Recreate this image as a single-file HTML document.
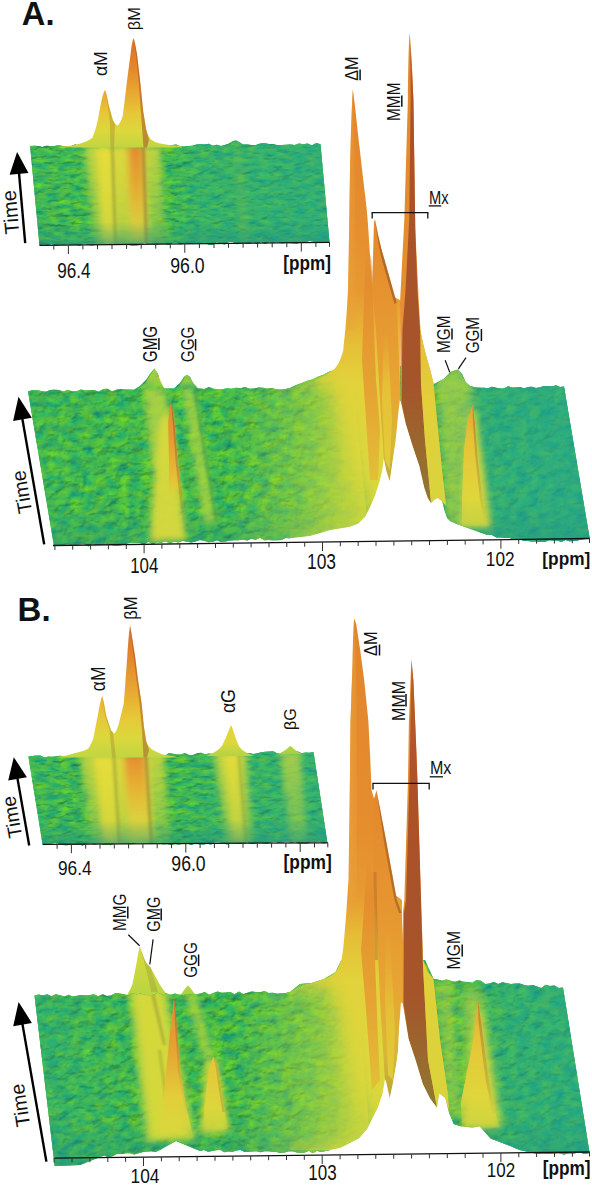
<!DOCTYPE html>
<html><head><meta charset="utf-8"><style>
html,body{margin:0;padding:0;background:#fff;width:592px;height:1187px;overflow:hidden}
svg{display:block}
text{font-family:"Liberation Sans",sans-serif;fill:#111}
</style></head><body><svg width="592" height="1187" viewBox="0 0 592 1187"><defs><filter id="tex" x="0" y="0" width="1" height="1" color-interpolation-filters="sRGB">
<feTurbulence type="fractalNoise" baseFrequency="0.1 0.15" numOctaves="3" seed="4" result="n"/>
<feColorMatrix in="n" type="matrix" values="-0.5 0.0 0 0 0.525  -0.26 0.15 0 0 0.792  0.46 0.0 0 0 0.07  0 0 0 0 1" result="c"/>
<feDiffuseLighting in="n" surfaceScale="2.5" diffuseConstant="1" lighting-color="#fff" result="l"><feDistantLight azimuth="235" elevation="50"/></feDiffuseLighting>
<feColorMatrix in="l" type="matrix" values="0.85 0 0 0 0.35  0.5 0 0 0 0.61  0.25 0 0 0 0.81  0 0 0 0 1" result="l2"/>
<feComposite in="c" in2="l2" operator="arithmetic" k1="1" k2="0" k3="0" k4="0" result="m"/>
<feComposite in="m" in2="SourceGraphic" operator="in"/>
</filter><filter id="tex2" x="0" y="0" width="1" height="1" color-interpolation-filters="sRGB">
<feTurbulence type="fractalNoise" baseFrequency="0.085 0.12" numOctaves="3" seed="9" result="n"/>
<feColorMatrix in="n" type="matrix" values="-0.5 0.0 0 0 0.525  -0.26 0.15 0 0 0.792  0.46 0.0 0 0 0.07  0 0 0 0 1" result="c"/>
<feDiffuseLighting in="n" surfaceScale="2.5" diffuseConstant="1" lighting-color="#fff" result="l"><feDistantLight azimuth="235" elevation="50"/></feDiffuseLighting>
<feColorMatrix in="l" type="matrix" values="0.85 0 0 0 0.35  0.5 0 0 0 0.61  0.25 0 0 0 0.81  0 0 0 0 1" result="l2"/>
<feComposite in="c" in2="l2" operator="arithmetic" k1="1" k2="0" k3="0" k4="0" result="m"/>
<feComposite in="m" in2="SourceGraphic" operator="in"/>
</filter><filter id="texI" x="0" y="0" width="1" height="1" color-interpolation-filters="sRGB">
<feTurbulence type="fractalNoise" baseFrequency="0.085 0.19" numOctaves="3" seed="5" result="n"/>
<feColorMatrix in="n" type="matrix" values="-0.5 0.0 0 0 0.525  -0.26 0.15 0 0 0.792  0.46 0.0 0 0 0.07  0 0 0 0 1" result="c"/>
<feDiffuseLighting in="n" surfaceScale="2.5" diffuseConstant="1" lighting-color="#fff" result="l"><feDistantLight azimuth="250" elevation="55"/></feDiffuseLighting>
<feColorMatrix in="l" type="matrix" values="0.85 0 0 0 0.35  0.5 0 0 0 0.61  0.25 0 0 0 0.81  0 0 0 0 1" result="l2"/>
<feComposite in="c" in2="l2" operator="arithmetic" k1="1" k2="0" k3="0" k4="0" result="m"/>
<feComposite in="m" in2="SourceGraphic" operator="in"/>
</filter><filter id="tex3" x="0" y="0" width="1" height="1" color-interpolation-filters="sRGB">
<feTurbulence type="fractalNoise" baseFrequency="0.085 0.12" numOctaves="3" seed="12" result="n"/>
<feColorMatrix in="n" type="matrix" values="-0.5 0.0 0 0 0.525  -0.26 0.15 0 0 0.792  0.46 0.0 0 0 0.07  0 0 0 0 1" result="c"/>
<feDiffuseLighting in="n" surfaceScale="2.5" diffuseConstant="1" lighting-color="#fff" result="l"><feDistantLight azimuth="235" elevation="50"/></feDiffuseLighting>
<feColorMatrix in="l" type="matrix" values="0.85 0 0 0 0.35  0.5 0 0 0 0.61  0.25 0 0 0 0.81  0 0 0 0 1" result="l2"/>
<feComposite in="c" in2="l2" operator="arithmetic" k1="1" k2="0" k3="0" k4="0" result="m"/>
<feComposite in="m" in2="SourceGraphic" operator="in"/>
</filter><filter id="b1" x="-50%" y="-50%" width="200%" height="200%"><feGaussianBlur stdDeviation="1"/></filter><filter id="b2" x="-50%" y="-50%" width="200%" height="200%"><feGaussianBlur stdDeviation="2"/></filter><filter id="b3" x="-50%" y="-50%" width="200%" height="200%"><feGaussianBlur stdDeviation="3"/></filter><filter id="b5" x="-50%" y="-50%" width="200%" height="200%"><feGaussianBlur stdDeviation="5"/></filter><filter id="b6" x="-50%" y="-50%" width="200%" height="200%"><feGaussianBlur stdDeviation="6"/></filter><filter id="b10" x="-50%" y="-50%" width="200%" height="200%"><feGaussianBlur stdDeviation="10"/></filter><linearGradient id="tealA" gradientUnits="userSpaceOnUse" x1="30" y1="0" x2="330" y2="0"><stop offset="0" stop-color="#22a596" stop-opacity="0.15"/><stop offset="0.2" stop-color="#22a596" stop-opacity="0.05"/><stop offset="0.45" stop-color="#22a596" stop-opacity="0"/><stop offset="0.55" stop-color="#22a596" stop-opacity="0.35"/><stop offset="1" stop-color="#22a596" stop-opacity="0.55"/></linearGradient><clipPath id="cInsA"><polygon points="30.1,146.0 34.2,145.8 38.2,146.1 42.3,147.1 46.3,145.8 50.4,145.9 54.5,146.1 58.5,145.0 62.6,145.9 66.6,146.2 70.7,146.6 74.8,144.6 78.8,145.2 82.9,144.6 86.9,146.5 91.0,146.2 95.1,144.4 99.1,147.0 103.2,146.9 107.2,146.0 111.3,145.9 115.4,144.6 119.4,144.1 123.5,145.6 127.6,144.2 131.6,144.6 135.7,144.7 139.7,144.1 143.8,145.3 147.9,145.2 151.9,146.3 156.0,145.3 160.0,145.7 164.1,145.2 168.2,145.7 172.2,145.1 176.3,144.6 180.3,146.5 184.4,146.5 188.5,146.1 192.5,145.7 196.6,144.5 200.6,144.3 204.7,144.4 208.8,143.8 212.8,145.7 216.9,144.7 220.9,145.9 225.0,144.9 229.0,143.5 233.0,141.0 236.0,140.5 239.0,142.0 243.0,144.6 247.3,144.5 251.6,145.0 255.9,145.0 260.2,143.5 264.5,143.1 268.8,144.1 273.1,143.9 277.4,145.3 281.8,145.0 286.1,144.7 290.4,144.6 294.7,144.9 299.0,143.4 303.3,144.2 307.6,143.4 311.9,145.5 316.2,143.1 320.5,144.3 329.5,242.3 325.5,242.3 321.4,242.8 317.4,242.9 313.4,241.5 309.4,241.1 305.3,242.2 301.3,242.0 297.3,243.5 293.2,243.2 289.2,243.0 285.2,242.9 281.2,243.3 277.1,241.8 273.1,242.7 269.1,242.0 265.1,244.1 261.0,241.8 257.0,243.9 253.0,241.9 248.9,243.7 244.9,242.7 240.9,242.9 236.9,244.2 232.8,242.0 228.8,242.1 224.8,244.5 220.8,243.4 216.7,242.3 212.7,244.9 208.7,244.8 204.6,242.5 200.6,243.4 196.6,242.7 192.6,243.2 188.5,244.1 184.5,242.9 180.5,244.4 176.4,242.6 172.4,243.0 168.4,244.9 164.4,243.7 160.3,243.8 156.3,244.4 152.3,244.1 148.2,243.9 144.2,242.9 140.2,244.9 136.2,245.6 132.1,245.7 128.1,244.8 124.1,244.0 120.1,244.1 116.0,245.0 112.0,245.0 108.0,243.5 103.9,243.9 99.9,244.3 95.9,244.7 91.9,245.6 87.8,244.8 83.8,243.5 79.8,245.8 75.8,244.7 71.7,245.0 67.7,244.2 63.7,244.8 59.6,244.8 55.6,245.9 51.6,244.1 47.6,245.4 43.5,244.4 39.5,245.3"/></clipPath><linearGradient id="rgA1" gradientUnits="userSpaceOnUse" x1="0" y1="146" x2="0" y2="245"><stop offset="0" stop-color="#c6d541" stop-opacity="0.95"/><stop offset="1" stop-color="#a8d044" stop-opacity="0.5"/></linearGradient><linearGradient id="rgA2" gradientUnits="userSpaceOnUse" x1="0" y1="146" x2="0" y2="245"><stop offset="0" stop-color="#dcd83c" stop-opacity="1"/><stop offset="0.6" stop-color="#d4d53d" stop-opacity="0.8"/><stop offset="1" stop-color="#c8d440" stop-opacity="0.55"/></linearGradient><linearGradient id="rgA3" gradientUnits="userSpaceOnUse" x1="0" y1="146" x2="0" y2="245"><stop offset="0" stop-color="#e6de3a" stop-opacity="1"/><stop offset="1" stop-color="#d6d63d" stop-opacity="0.8"/></linearGradient><linearGradient id="rgA4" gradientUnits="userSpaceOnUse" x1="0" y1="146" x2="0" y2="245"><stop offset="0" stop-color="#e48a2e" stop-opacity="1"/><stop offset="0.4" stop-color="#e5a833" stop-opacity="1"/><stop offset="0.75" stop-color="#e0c83a" stop-opacity="0.9"/><stop offset="1" stop-color="#d2d03e" stop-opacity="0.7"/></linearGradient><linearGradient id="frA" gradientUnits="userSpaceOnUse" x1="0" y1="222" x2="0" y2="247"><stop offset="0" stop-color="#1f8f86" stop-opacity="0"/><stop offset="1" stop-color="#1f8f86" stop-opacity="0.55"/></linearGradient><linearGradient id="gInA" gradientUnits="userSpaceOnUse" x1="0" y1="38" x2="0" y2="147"><stop offset="0" stop-color="#d9702a"/><stop offset="0.25" stop-color="#e2842c"/><stop offset="0.5" stop-color="#e8a832"/><stop offset="0.7" stop-color="#e6c838"/><stop offset="0.85" stop-color="#dcd83c"/><stop offset="1" stop-color="#c2d542"/></linearGradient><linearGradient id="tealA2" gradientUnits="userSpaceOnUse" x1="28" y1="0" x2="590" y2="0"><stop offset="0" stop-color="#22a596" stop-opacity="0.1"/><stop offset="0.2" stop-color="#22a596" stop-opacity="0.0"/><stop offset="0.72" stop-color="#22a596" stop-opacity="0.0"/><stop offset="0.81" stop-color="#22a596" stop-opacity="0.55"/><stop offset="1" stop-color="#22a596" stop-opacity="0.7"/></linearGradient><linearGradient id="frMA" gradientUnits="userSpaceOnUse" x1="0" y1="505" x2="0" y2="548"><stop offset="0" stop-color="#1f8f86" stop-opacity="0"/><stop offset="1" stop-color="#1f8f86" stop-opacity="0.4"/></linearGradient><clipPath id="cMainA"><polygon points="28.0,391.4 32.4,389.9 36.8,390.1 41.2,390.9 45.7,391.7 50.1,390.0 54.5,389.8 58.9,390.1 63.3,391.6 67.8,389.7 72.2,391.5 76.6,391.2 81.0,389.5 85.4,390.6 89.8,390.3 94.2,390.1 98.7,391.8 103.1,389.0 107.5,388.8 111.9,391.5 116.3,389.8 120.8,389.1 125.2,389.4 129.6,389.5 134.0,389.8 140.0,386.0 146.0,380.0 150.0,374.0 154.5,368.6 158.0,374.0 160.0,382.0 164.0,388.5 174.0,388.6 180.0,383.0 184.0,377.0 186.9,374.7 190.0,377.0 193.0,383.0 198.0,388.4 200.0,388.4 204.5,388.9 209.0,387.1 213.5,388.7 218.0,389.3 222.5,389.3 227.0,388.3 231.5,388.7 236.0,387.8 240.5,388.3 245.0,387.0 249.5,388.7 254.0,388.5 258.5,387.5 263.0,387.8 267.5,388.8 272.0,387.9 276.5,389.4 281.0,389.5 285.5,389.0 290.0,388.0 295.6,385.2 301.1,383.2 306.7,381.0 312.3,379.5 317.9,376.7 323.5,374.8 329.0,371.8 334.6,370.0 340.0,366.0 425.0,366.0 430.0,386.0 436.0,383.0 443.8,378.9 450.5,372.0 458.1,369.6 462.0,374.0 465.7,382.2 470.0,386.0 476.0,387.5 476.0,387.5 480.0,387.7 484.0,387.8 488.0,388.3 492.0,386.7 496.0,387.7 500.0,388.4 504.0,388.4 508.0,386.2 512.0,387.5 516.0,387.4 520.0,387.0 524.0,388.4 528.0,387.0 532.0,386.7 536.0,388.1 540.0,387.2 544.0,386.1 548.0,386.1 552.0,386.6 556.0,385.2 560.0,386.9 564.0,386.5 589.7,538.6 585.6,539.0 581.6,539.4 577.5,540.5 573.5,540.9 569.4,541.2 565.4,539.9 561.3,541.9 557.2,540.6 553.2,540.6 549.1,540.2 545.1,541.8 541.0,542.0 536.5,541.6 532.1,541.6 527.6,541.0 523.2,540.8 518.7,538.4 514.2,539.9 509.8,538.1 505.3,538.1 500.9,537.5 496.4,537.5 492.0,534.9 487.5,535.0 459.0,524.7 450.0,520.9 447.1,518.4 444.6,511.6 442.0,501.5 437.8,498.1 434.5,499.8 431.1,503.2 427.7,498.1 424.3,488.0 419.3,466.0 412.5,445.7 405.7,423.8 400.7,401.8 399.8,400.1 398.1,415.3 395.6,440.7 393.1,457.6 389.7,481.2 386.3,471.1 383.8,458.4 382.1,471.1 379.6,481.2 375.3,494.7 370.3,506.6 365.2,516.7 358.4,523.4 350.0,526.8 330.5,530.0 310.0,536.0 290.0,538.3 285.7,537.9 281.4,540.1 277.1,540.2 272.8,540.2 268.5,539.9 264.3,540.3 260.0,537.7 255.7,539.8 251.4,538.8 247.1,540.4 242.8,539.6 238.5,540.2 234.2,540.3 229.9,540.5 225.6,541.4 221.3,542.1 217.1,540.2 212.8,541.8 208.5,542.2 204.2,540.8 199.9,540.0 195.6,541.4 191.3,542.4 187.0,541.7 182.7,540.8 178.4,542.6 174.1,541.5 169.9,543.5 165.6,541.3 161.3,542.8 157.0,542.3 152.7,544.3 148.4,541.8 144.1,544.3 139.8,542.9 135.5,542.9 131.2,542.5 126.9,543.6 122.7,545.1 118.4,545.5 114.1,545.4 109.8,544.5 105.5,543.5 101.2,544.5 96.9,545.1 92.6,544.1 88.3,546.4 84.0,543.7 79.7,544.3 75.5,544.4 71.2,544.4 66.9,544.2 62.6,544.9 58.3,545.5 54.0,546.0"/></clipPath><linearGradient id="glA" gradientUnits="userSpaceOnUse" x1="230" y1="0" x2="345" y2="0"><stop offset="0" stop-color="#b5d443" stop-opacity="0"/><stop offset="0.6" stop-color="#b5d443" stop-opacity="0.45"/><stop offset="1" stop-color="#cfd83e" stop-opacity="0.8"/></linearGradient><linearGradient id="gFrA" gradientUnits="userSpaceOnUse" x1="0" y1="401" x2="0" y2="500"><stop offset="0" stop-color="#e4882e"/><stop offset="0.4" stop-color="#e69c31"/><stop offset="0.8" stop-color="#e5c237"/><stop offset="1" stop-color="#e0d33b" stop-opacity="0"/></linearGradient><linearGradient id="gFrA2" gradientUnits="userSpaceOnUse" x1="0" y1="401" x2="0" y2="535"><stop offset="0" stop-color="#9a6028" stop-opacity="0.7"/><stop offset="0.7" stop-color="#a88a34" stop-opacity="0.5"/><stop offset="1" stop-color="#a88a34" stop-opacity="0"/></linearGradient><linearGradient id="gBkA" gradientUnits="userSpaceOnUse" x1="0" y1="368" x2="0" y2="390"><stop offset="0" stop-color="#cad83e"/><stop offset="0.6" stop-color="#b0d243"/><stop offset="1" stop-color="#a0cd45" stop-opacity="0"/></linearGradient><mask id="mFadeA" maskUnits="userSpaceOnUse" x="0" y="0" width="592" height="600"><rect x="0" y="0" width="592" height="600" fill="#fff"/><polygon points="200,382 322,378 334,396 340,420 350,471 362,512 368,532 200,560" fill="#000" filter="url(#b10)"/><polygon points="452,392 470,392 470,540 452,540 446,505" fill="#000" filter="url(#b3)"/></mask><linearGradient id="gDM" gradientUnits="userSpaceOnUse" x1="0" y1="89" x2="0" y2="545"><stop offset="0" stop-color="#e2842c"/><stop offset="0.3" stop-color="#e58e2e"/><stop offset="0.45" stop-color="#e79a31"/><stop offset="0.56" stop-color="#e6be37"/><stop offset="0.64" stop-color="#e2d23b"/><stop offset="0.8" stop-color="#dfd73c"/><stop offset="1" stop-color="#d4d63d"/></linearGradient><linearGradient id="gDMl" gradientUnits="userSpaceOnUse" x1="343" y1="0" x2="360" y2="0"><stop offset="0" stop-color="#eba23a" stop-opacity="0.8"/><stop offset="1" stop-color="#eba23a" stop-opacity="0"/></linearGradient><linearGradient id="gS1" gradientUnits="userSpaceOnUse" x1="0" y1="240" x2="0" y2="490"><stop offset="0" stop-color="#e48a2e" stop-opacity="0"/><stop offset="0.15" stop-color="#e48a2e" stop-opacity="1"/><stop offset="0.6" stop-color="#e69a30"/><stop offset="1" stop-color="#e4bf37"/></linearGradient><linearGradient id="gMx" gradientUnits="userSpaceOnUse" x1="0" y1="219" x2="0" y2="490"><stop offset="0" stop-color="#e3882c"/><stop offset="0.3" stop-color="#e69430"/><stop offset="0.65" stop-color="#e7a633"/><stop offset="0.85" stop-color="#d8b836"/><stop offset="1" stop-color="#b9a236"/></linearGradient><linearGradient id="gMxy" gradientUnits="userSpaceOnUse" x1="0" y1="330" x2="0" y2="470"><stop offset="0" stop-color="#e8b434" stop-opacity="0"/><stop offset="0.4" stop-color="#e6c437" stop-opacity="0.9"/><stop offset="1" stop-color="#e3cf3a" stop-opacity="0.9"/></linearGradient><linearGradient id="gMMM" gradientUnits="userSpaceOnUse" x1="0" y1="33" x2="0" y2="505"><stop offset="0" stop-color="#e3882c"/><stop offset="0.7" stop-color="#e5902e"/><stop offset="1" stop-color="#e4b035"/></linearGradient><linearGradient id="gBrown" gradientUnits="userSpaceOnUse" x1="0" y1="33" x2="0" y2="505"><stop offset="0" stop-color="#b8602c"/><stop offset="0.2" stop-color="#ad5028"/><stop offset="0.75" stop-color="#a5552a"/><stop offset="1" stop-color="#8f7a32"/></linearGradient><linearGradient id="gMMy" gradientUnits="userSpaceOnUse" x1="0" y1="300" x2="0" y2="505"><stop offset="0" stop-color="#e6b834"/><stop offset="0.5" stop-color="#e3cf3a"/><stop offset="1" stop-color="#d8d43c"/></linearGradient><linearGradient id="gBk2" gradientUnits="userSpaceOnUse" x1="0" y1="369" x2="0" y2="394"><stop offset="0" stop-color="#bcd742"/><stop offset="0.6" stop-color="#a9d044"/><stop offset="1" stop-color="#a9d044" stop-opacity="0"/></linearGradient><linearGradient id="gMGM" gradientUnits="userSpaceOnUse" x1="0" y1="405" x2="0" y2="528"><stop offset="0" stop-color="#e6a432"/><stop offset="0.3" stop-color="#e6c437"/><stop offset="0.75" stop-color="#e0d63b" stop-opacity="0.95"/><stop offset="1" stop-color="#dcd63c" stop-opacity="0.2"/></linearGradient><linearGradient id="gMGMs" gradientUnits="userSpaceOnUse" x1="0" y1="405" x2="0" y2="525"><stop offset="0" stop-color="#a06a2a" stop-opacity="0.6"/><stop offset="0.7" stop-color="#a89a38" stop-opacity="0.45"/><stop offset="1" stop-color="#a89a38" stop-opacity="0"/></linearGradient><linearGradient id="tealB" gradientUnits="userSpaceOnUse" x1="28" y1="0" x2="328" y2="0"><stop offset="0" stop-color="#22a596" stop-opacity="0.15"/><stop offset="0.2" stop-color="#22a596" stop-opacity="0.05"/><stop offset="0.45" stop-color="#22a596" stop-opacity="0"/><stop offset="0.6" stop-color="#22a596" stop-opacity="0.25"/><stop offset="1" stop-color="#22a596" stop-opacity="0.5"/></linearGradient><clipPath id="cInsB"><polygon points="28.4,756.5 32.4,756.1 36.4,755.6 40.4,755.4 44.5,757.4 48.5,756.4 52.5,756.7 56.5,756.2 60.5,755.7 64.5,756.6 68.6,756.1 72.6,756.6 76.6,756.2 80.6,756.6 84.6,755.4 88.6,754.6 92.6,754.5 96.7,756.0 100.7,754.4 104.7,755.7 108.7,755.6 112.7,753.9 116.7,755.9 120.8,753.7 124.8,756.0 128.8,755.9 132.8,754.1 136.8,755.4 140.8,755.4 144.8,753.6 148.9,755.1 152.9,753.5 156.9,755.6 160.9,754.9 164.9,755.7 168.9,753.0 173.0,753.7 177.0,754.5 181.0,754.4 185.0,753.1 189.0,755.1 193.0,754.9 197.1,753.3 201.1,752.8 205.1,754.2 209.1,753.4 213.1,754.0 217.1,753.5 221.1,753.2 225.2,752.1 229.2,752.3 233.2,753.2 237.2,753.8 241.2,752.9 245.2,753.8 249.3,753.1 253.3,754.0 257.3,753.3 261.3,752.3 265.3,751.7 269.3,751.5 273.3,751.3 277.4,753.6 281.4,753.6 285.4,753.1 289.4,751.3 293.4,752.8 297.4,751.2 301.5,753.3 305.5,752.6 309.5,752.8 313.5,752.0 327.4,842.8 323.4,843.2 319.4,841.5 315.4,842.2 311.4,842.1 307.3,843.6 303.3,843.4 299.3,844.1 295.3,841.8 291.3,842.8 287.3,841.7 283.3,842.3 279.3,843.1 275.3,841.8 271.2,842.3 267.2,843.6 263.2,843.3 259.2,842.4 255.2,843.5 251.2,844.1 247.2,841.9 243.2,844.1 239.2,843.9 235.1,842.9 231.1,842.4 227.1,844.6 223.1,842.9 219.1,842.3 215.1,842.3 211.1,844.4 207.1,843.8 203.1,844.4 199.0,844.2 195.0,843.6 191.0,844.9 187.0,843.2 183.0,843.8 179.0,844.6 175.0,844.0 171.0,844.7 166.9,843.9 162.9,844.3 158.9,842.5 154.9,843.0 150.9,843.2 146.9,842.6 142.9,843.1 138.9,842.7 134.9,843.3 130.8,844.3 126.8,843.5 122.8,843.6 118.8,843.2 114.8,843.3 110.8,845.2 106.8,844.5 102.8,844.4 98.8,843.2 94.7,844.7 90.7,843.2 86.7,843.8 82.7,845.5 78.7,844.6 74.7,844.4 70.7,844.8 66.7,845.2 62.7,845.1 58.6,843.6 54.6,843.0 50.6,843.8 46.6,843.7 42.6,844.4"/></clipPath><linearGradient id="rgB1" gradientUnits="userSpaceOnUse" x1="0" y1="754" x2="0" y2="845"><stop offset="0" stop-color="#c6d541" stop-opacity="0.95"/><stop offset="1" stop-color="#a8d044" stop-opacity="0.5"/></linearGradient><linearGradient id="rgB2" gradientUnits="userSpaceOnUse" x1="0" y1="754" x2="0" y2="845"><stop offset="0" stop-color="#dcd83c" stop-opacity="1"/><stop offset="0.6" stop-color="#d4d53d" stop-opacity="0.8"/><stop offset="1" stop-color="#c8d440" stop-opacity="0.55"/></linearGradient><linearGradient id="rgB3" gradientUnits="userSpaceOnUse" x1="0" y1="754" x2="0" y2="845"><stop offset="0" stop-color="#e6de3a" stop-opacity="1"/><stop offset="1" stop-color="#d6d63d" stop-opacity="0.8"/></linearGradient><linearGradient id="rgB4" gradientUnits="userSpaceOnUse" x1="0" y1="754" x2="0" y2="845"><stop offset="0" stop-color="#e48a2e" stop-opacity="1"/><stop offset="0.35" stop-color="#e6b034" stop-opacity="1"/><stop offset="0.7" stop-color="#e0d03a" stop-opacity="0.9"/><stop offset="1" stop-color="#d2d43e" stop-opacity="0.7"/></linearGradient><linearGradient id="rgB5" gradientUnits="userSpaceOnUse" x1="0" y1="752" x2="0" y2="845"><stop offset="0" stop-color="#e4dc3a" stop-opacity="1"/><stop offset="1" stop-color="#d0d53e" stop-opacity="0.7"/></linearGradient><linearGradient id="frB" gradientUnits="userSpaceOnUse" x1="0" y1="820" x2="0" y2="847"><stop offset="0" stop-color="#1f8f86" stop-opacity="0"/><stop offset="1" stop-color="#1f8f86" stop-opacity="0.55"/></linearGradient><linearGradient id="gInB" gradientUnits="userSpaceOnUse" x1="0" y1="625" x2="0" y2="757"><stop offset="0" stop-color="#d9702a"/><stop offset="0.22" stop-color="#e2842c"/><stop offset="0.5" stop-color="#e8a832"/><stop offset="0.7" stop-color="#e6c838"/><stop offset="0.85" stop-color="#dcd83c"/><stop offset="1" stop-color="#c2d542"/></linearGradient><linearGradient id="gaG" gradientUnits="userSpaceOnUse" x1="0" y1="725" x2="0" y2="754"><stop offset="0" stop-color="#e6d23a"/><stop offset="0.6" stop-color="#dcd83c"/><stop offset="1" stop-color="#b9d342"/></linearGradient><linearGradient id="gbG" gradientUnits="userSpaceOnUse" x1="0" y1="745" x2="0" y2="755"><stop offset="0" stop-color="#b9d442"/><stop offset="1" stop-color="#a2cf44"/></linearGradient><linearGradient id="gMMG" gradientUnits="userSpaceOnUse" x1="0" y1="946" x2="0" y2="1000"><stop offset="0" stop-color="#d8da3c"/><stop offset="0.7" stop-color="#c2d641"/><stop offset="1" stop-color="#b4d343"/></linearGradient><linearGradient id="gBkGGG" gradientUnits="userSpaceOnUse" x1="0" y1="985" x2="0" y2="1000"><stop offset="0" stop-color="#b8d442"/><stop offset="1" stop-color="#a5cf44"/></linearGradient><linearGradient id="tealB2" gradientUnits="userSpaceOnUse" x1="34" y1="0" x2="590" y2="0"><stop offset="0" stop-color="#22a596" stop-opacity="0.35"/><stop offset="0.15" stop-color="#22a596" stop-opacity="0.1"/><stop offset="0.3" stop-color="#22a596" stop-opacity="0.0"/><stop offset="0.76" stop-color="#22a596" stop-opacity="0.0"/><stop offset="0.85" stop-color="#22a596" stop-opacity="0.45"/><stop offset="1" stop-color="#22a596" stop-opacity="0.6"/></linearGradient><linearGradient id="frMB" gradientUnits="userSpaceOnUse" x1="0" y1="1115" x2="0" y2="1166"><stop offset="0" stop-color="#1f8f86" stop-opacity="0"/><stop offset="1" stop-color="#1f8f86" stop-opacity="0.4"/></linearGradient><clipPath id="cMainB"><polygon points="34.5,995.5 38.8,994.6 43.0,995.4 47.3,994.2 51.5,996.3 55.8,994.3 60.0,995.3 64.3,996.5 68.6,994.7 72.8,996.5 77.1,995.7 81.3,995.0 85.6,995.2 89.9,995.0 94.1,994.2 98.4,996.2 102.6,994.3 106.9,996.1 111.1,995.6 115.4,992.9 119.7,993.6 123.9,994.2 128.2,995.2 132.4,993.1 136.7,994.5 141.0,993.6 145.2,994.9 149.5,995.3 153.7,994.7 158.0,992.8 162.2,994.6 166.5,993.5 170.8,994.7 175.0,993.5 179.3,994.8 183.5,995.0 187.8,994.4 192.1,994.4 196.3,994.3 200.6,993.5 204.8,992.1 209.1,994.7 213.3,992.9 217.6,991.4 221.9,992.7 226.1,992.6 230.4,991.9 234.6,994.2 238.9,991.5 243.2,993.9 247.4,992.7 251.7,991.5 255.9,992.0 260.2,992.2 264.5,991.1 268.7,993.1 273.0,992.7 277.2,993.7 281.5,993.2 285.7,993.0 290.0,992.0 300.0,984.0 311.8,982.9 323.6,979.3 335.5,972.2 341.4,960.0 425.0,960.0 433.4,978.8 433.4,978.8 437.7,979.5 442.0,980.8 446.4,979.5 450.7,980.7 455.0,981.8 459.3,980.6 463.6,981.7 468.0,982.0 472.3,982.7 476.6,980.1 480.9,980.8 485.2,984.1 489.6,983.5 493.9,982.0 498.2,984.1 502.5,982.3 506.8,983.3 511.2,983.9 515.5,983.4 519.8,983.4 524.1,985.0 528.4,985.8 532.8,984.9 537.1,986.4 541.4,987.9 545.7,984.8 550.0,985.9 554.4,985.5 558.7,987.9 563.0,987.6 589.6,1153.0 584.4,1154.1 579.3,1152.3 574.1,1153.4 569.0,1153.4 563.8,1154.6 558.6,1153.3 553.5,1153.6 548.3,1154.0 543.2,1153.6 538.0,1154.0 519.5,1150.0 507.0,1144.7 490.6,1138.6 480.0,1126.6 472.4,1127.8 460.6,1126.6 453.5,1124.2 448.8,1112.4 445.2,1098.2 439.3,1093.5 437.0,1107.7 429.9,1098.2 422.8,1084.0 415.7,1060.4 408.6,1039.1 402.7,1003.6 401.0,1002.5 399.1,1027.3 398.0,1051.0 396.7,1060.4 393.2,1081.7 389.7,1098.2 386.1,1081.7 384.9,1079.3 382.6,1093.5 377.8,1107.7 373.1,1117.1 367.2,1129.0 358.9,1138.4 349.5,1143.2 340.0,1147.9 321.0,1152.0 317.0,1150.7 312.9,1153.3 308.9,1150.8 304.9,1152.6 300.8,1152.9 296.8,1152.5 292.8,1151.2 288.7,1151.3 284.7,1152.4 280.7,1153.1 276.6,1152.1 272.6,1151.7 268.6,1151.2 264.5,1151.3 260.5,1152.2 256.5,1151.3 252.4,1151.5 248.4,1151.8 244.4,1151.8 240.3,1150.0 236.3,1150.5 232.3,1151.9 228.2,1151.4 224.2,1152.2 220.2,1149.8 216.1,1150.3 212.1,1151.1 208.1,1151.8 204.0,1150.1 200.0,1151.0 176.0,1141.0 165.0,1147.0 160.0,1150.0 155.7,1151.9 151.4,1151.2 147.1,1151.4 142.9,1152.1 138.6,1153.3 134.3,1154.5 130.0,1153.3 125.7,1153.2 121.4,1154.1 117.1,1153.7 112.9,1155.9 108.6,1157.5 104.3,1155.6 100.0,1157.0 80.0,1165.0 54.7,1166.0"/></clipPath><linearGradient id="glB" gradientUnits="userSpaceOnUse" x1="235" y1="0" x2="350" y2="0"><stop offset="0" stop-color="#b5d443" stop-opacity="0"/><stop offset="0.6" stop-color="#b5d443" stop-opacity="0.45"/><stop offset="1" stop-color="#cfd83e" stop-opacity="0.8"/></linearGradient><linearGradient id="gFrB" gradientUnits="userSpaceOnUse" x1="0" y1="997" x2="0" y2="1140"><stop offset="0" stop-color="#e48a2e"/><stop offset="0.35" stop-color="#e6a232"/><stop offset="0.7" stop-color="#e3cd3a"/><stop offset="0.88" stop-color="#dcd63c" stop-opacity="0.8"/><stop offset="1" stop-color="#dcd63c" stop-opacity="0"/></linearGradient><linearGradient id="gFrB2" gradientUnits="userSpaceOnUse" x1="0" y1="997" x2="0" y2="1120"><stop offset="0" stop-color="#9a5a28" stop-opacity="0.7"/><stop offset="1" stop-color="#b8a038" stop-opacity="0"/></linearGradient><linearGradient id="gF3B" gradientUnits="userSpaceOnUse" x1="0" y1="1056" x2="0" y2="1130"><stop offset="0" stop-color="#e6c437"/><stop offset="0.7" stop-color="#dcd63c"/><stop offset="1" stop-color="#dcd63c" stop-opacity="0"/></linearGradient><mask id="mFadeB" maskUnits="userSpaceOnUse" x="0" y="590" width="592" height="597"><rect x="0" y="590" width="592" height="597" fill="#fff"/><polygon points="200,990 326,986 336,1000 343,1030 350,1080 360,1115 367,1140 200,1170" fill="#000" filter="url(#b10)"/></mask><linearGradient id="gDMB" gradientUnits="userSpaceOnUse" x1="0" y1="618" x2="0" y2="1150"><stop offset="0" stop-color="#e2842c"/><stop offset="0.4" stop-color="#e58e2e"/><stop offset="0.52" stop-color="#e79a31"/><stop offset="0.6" stop-color="#e6be37"/><stop offset="0.68" stop-color="#e2d23b"/><stop offset="0.82" stop-color="#dfd73c"/><stop offset="1" stop-color="#d4d63d"/></linearGradient><linearGradient id="gDMlB" gradientUnits="userSpaceOnUse" x1="348" y1="0" x2="362" y2="0"><stop offset="0" stop-color="#eba23a" stop-opacity="0.8"/><stop offset="1" stop-color="#eba23a" stop-opacity="0"/></linearGradient><linearGradient id="gS1B" gradientUnits="userSpaceOnUse" x1="0" y1="850" x2="0" y2="1100"><stop offset="0" stop-color="#e48a2e" stop-opacity="0"/><stop offset="0.2" stop-color="#e48a2e" stop-opacity="1"/><stop offset="0.6" stop-color="#e69a30"/><stop offset="1" stop-color="#e4bf37"/></linearGradient><linearGradient id="gMxB" gradientUnits="userSpaceOnUse" x1="0" y1="790" x2="0" y2="1100"><stop offset="0" stop-color="#e3882c"/><stop offset="0.35" stop-color="#e69430"/><stop offset="0.65" stop-color="#e7a633"/><stop offset="0.85" stop-color="#d8b836"/><stop offset="1" stop-color="#b9a236"/></linearGradient><linearGradient id="gMxyB" gradientUnits="userSpaceOnUse" x1="0" y1="930" x2="0" y2="1090"><stop offset="0" stop-color="#e8b434" stop-opacity="0"/><stop offset="0.5" stop-color="#e6c437" stop-opacity="0.8"/><stop offset="1" stop-color="#e3cf3a" stop-opacity="0.9"/></linearGradient><linearGradient id="gMMMB" gradientUnits="userSpaceOnUse" x1="0" y1="658" x2="0" y2="1110"><stop offset="0" stop-color="#e3882c"/><stop offset="0.7" stop-color="#e5902e"/><stop offset="1" stop-color="#e4b035"/></linearGradient><linearGradient id="gBrB2" gradientUnits="userSpaceOnUse" x1="0" y1="658" x2="0" y2="1110"><stop offset="0" stop-color="#b8602c"/><stop offset="0.3" stop-color="#ad5028"/><stop offset="0.75" stop-color="#a5552a"/><stop offset="1" stop-color="#8f7a32"/></linearGradient><linearGradient id="gMMyB" gradientUnits="userSpaceOnUse" x1="0" y1="800" x2="0" y2="1110"><stop offset="0" stop-color="#e6b834"/><stop offset="0.5" stop-color="#e3cf3a"/><stop offset="1" stop-color="#d8d43c"/></linearGradient><linearGradient id="gMGMB" gradientUnits="userSpaceOnUse" x1="0" y1="1000" x2="0" y2="1128"><stop offset="0" stop-color="#e6a432"/><stop offset="0.3" stop-color="#e6c437"/><stop offset="0.75" stop-color="#e0d63b" stop-opacity="0.95"/><stop offset="1" stop-color="#dcd63c" stop-opacity="0.2"/></linearGradient><linearGradient id="gMGMBs" gradientUnits="userSpaceOnUse" x1="0" y1="1000" x2="0" y2="1120"><stop offset="0" stop-color="#a06a2a" stop-opacity="0.6"/><stop offset="0.7" stop-color="#a89a38" stop-opacity="0.45"/><stop offset="1" stop-color="#a89a38" stop-opacity="0"/></linearGradient></defs><text transform="translate(21.82,24.80) scale(32.6667,32.5714)" font-size="1" font-weight="bold">A.</text><polygon points="30.1,146.0 34.2,145.8 38.2,146.1 42.3,147.1 46.3,145.8 50.4,145.9 54.5,146.1 58.5,145.0 62.6,145.9 66.6,146.2 70.7,146.6 74.8,144.6 78.8,145.2 82.9,144.6 86.9,146.5 91.0,146.2 95.1,144.4 99.1,147.0 103.2,146.9 107.2,146.0 111.3,145.9 115.4,144.6 119.4,144.1 123.5,145.6 127.6,144.2 131.6,144.6 135.7,144.7 139.7,144.1 143.8,145.3 147.9,145.2 151.9,146.3 156.0,145.3 160.0,145.7 164.1,145.2 168.2,145.7 172.2,145.1 176.3,144.6 180.3,146.5 184.4,146.5 188.5,146.1 192.5,145.7 196.6,144.5 200.6,144.3 204.7,144.4 208.8,143.8 212.8,145.7 216.9,144.7 220.9,145.9 225.0,144.9 229.0,143.5 233.0,141.0 236.0,140.5 239.0,142.0 243.0,144.6 247.3,144.5 251.6,145.0 255.9,145.0 260.2,143.5 264.5,143.1 268.8,144.1 273.1,143.9 277.4,145.3 281.8,145.0 286.1,144.7 290.4,144.6 294.7,144.9 299.0,143.4 303.3,144.2 307.6,143.4 311.9,145.5 316.2,143.1 320.5,144.3 329.5,242.3 325.5,242.3 321.4,242.8 317.4,242.9 313.4,241.5 309.4,241.1 305.3,242.2 301.3,242.0 297.3,243.5 293.2,243.2 289.2,243.0 285.2,242.9 281.2,243.3 277.1,241.8 273.1,242.7 269.1,242.0 265.1,244.1 261.0,241.8 257.0,243.9 253.0,241.9 248.9,243.7 244.9,242.7 240.9,242.9 236.9,244.2 232.8,242.0 228.8,242.1 224.8,244.5 220.8,243.4 216.7,242.3 212.7,244.9 208.7,244.8 204.6,242.5 200.6,243.4 196.6,242.7 192.6,243.2 188.5,244.1 184.5,242.9 180.5,244.4 176.4,242.6 172.4,243.0 168.4,244.9 164.4,243.7 160.3,243.8 156.3,244.4 152.3,244.1 148.2,243.9 144.2,242.9 140.2,244.9 136.2,245.6 132.1,245.7 128.1,244.8 124.1,244.0 120.1,244.1 116.0,245.0 112.0,245.0 108.0,243.5 103.9,243.9 99.9,244.3 95.9,244.7 91.9,245.6 87.8,244.8 83.8,243.5 79.8,245.8 75.8,244.7 71.7,245.0 67.7,244.2 63.7,244.8 59.6,244.8 55.6,245.9 51.6,244.1 47.6,245.4 43.5,244.4 39.5,245.3" fill="#48ae4b"/><polygon points="30.1,146.0 34.2,145.8 38.2,146.1 42.3,147.1 46.3,145.8 50.4,145.9 54.5,146.1 58.5,145.0 62.6,145.9 66.6,146.2 70.7,146.6 74.8,144.6 78.8,145.2 82.9,144.6 86.9,146.5 91.0,146.2 95.1,144.4 99.1,147.0 103.2,146.9 107.2,146.0 111.3,145.9 115.4,144.6 119.4,144.1 123.5,145.6 127.6,144.2 131.6,144.6 135.7,144.7 139.7,144.1 143.8,145.3 147.9,145.2 151.9,146.3 156.0,145.3 160.0,145.7 164.1,145.2 168.2,145.7 172.2,145.1 176.3,144.6 180.3,146.5 184.4,146.5 188.5,146.1 192.5,145.7 196.6,144.5 200.6,144.3 204.7,144.4 208.8,143.8 212.8,145.7 216.9,144.7 220.9,145.9 225.0,144.9 229.0,143.5 233.0,141.0 236.0,140.5 239.0,142.0 243.0,144.6 247.3,144.5 251.6,145.0 255.9,145.0 260.2,143.5 264.5,143.1 268.8,144.1 273.1,143.9 277.4,145.3 281.8,145.0 286.1,144.7 290.4,144.6 294.7,144.9 299.0,143.4 303.3,144.2 307.6,143.4 311.9,145.5 316.2,143.1 320.5,144.3 329.5,242.3 325.5,242.3 321.4,242.8 317.4,242.9 313.4,241.5 309.4,241.1 305.3,242.2 301.3,242.0 297.3,243.5 293.2,243.2 289.2,243.0 285.2,242.9 281.2,243.3 277.1,241.8 273.1,242.7 269.1,242.0 265.1,244.1 261.0,241.8 257.0,243.9 253.0,241.9 248.9,243.7 244.9,242.7 240.9,242.9 236.9,244.2 232.8,242.0 228.8,242.1 224.8,244.5 220.8,243.4 216.7,242.3 212.7,244.9 208.7,244.8 204.6,242.5 200.6,243.4 196.6,242.7 192.6,243.2 188.5,244.1 184.5,242.9 180.5,244.4 176.4,242.6 172.4,243.0 168.4,244.9 164.4,243.7 160.3,243.8 156.3,244.4 152.3,244.1 148.2,243.9 144.2,242.9 140.2,244.9 136.2,245.6 132.1,245.7 128.1,244.8 124.1,244.0 120.1,244.1 116.0,245.0 112.0,245.0 108.0,243.5 103.9,243.9 99.9,244.3 95.9,244.7 91.9,245.6 87.8,244.8 83.8,243.5 79.8,245.8 75.8,244.7 71.7,245.0 67.7,244.2 63.7,244.8 59.6,244.8 55.6,245.9 51.6,244.1 47.6,245.4 43.5,244.4 39.5,245.3" fill="#000" filter="url(#texI)"/><polygon points="30.1,146.0 34.2,145.8 38.2,146.1 42.3,147.1 46.3,145.8 50.4,145.9 54.5,146.1 58.5,145.0 62.6,145.9 66.6,146.2 70.7,146.6 74.8,144.6 78.8,145.2 82.9,144.6 86.9,146.5 91.0,146.2 95.1,144.4 99.1,147.0 103.2,146.9 107.2,146.0 111.3,145.9 115.4,144.6 119.4,144.1 123.5,145.6 127.6,144.2 131.6,144.6 135.7,144.7 139.7,144.1 143.8,145.3 147.9,145.2 151.9,146.3 156.0,145.3 160.0,145.7 164.1,145.2 168.2,145.7 172.2,145.1 176.3,144.6 180.3,146.5 184.4,146.5 188.5,146.1 192.5,145.7 196.6,144.5 200.6,144.3 204.7,144.4 208.8,143.8 212.8,145.7 216.9,144.7 220.9,145.9 225.0,144.9 229.0,143.5 233.0,141.0 236.0,140.5 239.0,142.0 243.0,144.6 247.3,144.5 251.6,145.0 255.9,145.0 260.2,143.5 264.5,143.1 268.8,144.1 273.1,143.9 277.4,145.3 281.8,145.0 286.1,144.7 290.4,144.6 294.7,144.9 299.0,143.4 303.3,144.2 307.6,143.4 311.9,145.5 316.2,143.1 320.5,144.3 329.5,242.3 325.5,242.3 321.4,242.8 317.4,242.9 313.4,241.5 309.4,241.1 305.3,242.2 301.3,242.0 297.3,243.5 293.2,243.2 289.2,243.0 285.2,242.9 281.2,243.3 277.1,241.8 273.1,242.7 269.1,242.0 265.1,244.1 261.0,241.8 257.0,243.9 253.0,241.9 248.9,243.7 244.9,242.7 240.9,242.9 236.9,244.2 232.8,242.0 228.8,242.1 224.8,244.5 220.8,243.4 216.7,242.3 212.7,244.9 208.7,244.8 204.6,242.5 200.6,243.4 196.6,242.7 192.6,243.2 188.5,244.1 184.5,242.9 180.5,244.4 176.4,242.6 172.4,243.0 168.4,244.9 164.4,243.7 160.3,243.8 156.3,244.4 152.3,244.1 148.2,243.9 144.2,242.9 140.2,244.9 136.2,245.6 132.1,245.7 128.1,244.8 124.1,244.0 120.1,244.1 116.0,245.0 112.0,245.0 108.0,243.5 103.9,243.9 99.9,244.3 95.9,244.7 91.9,245.6 87.8,244.8 83.8,243.5 79.8,245.8 75.8,244.7 71.7,245.0 67.7,244.2 63.7,244.8 59.6,244.8 55.6,245.9 51.6,244.1 47.6,245.4 43.5,244.4 39.5,245.3" fill="url(#tealA)" /><g clip-path="url(#cInsA)"><g filter="url(#b3)"><polygon points="84.0,146.0 160.0,146.0 166.0,245.0 94.0,245.0" fill="url(#rgA1)" /><polygon points="95.0,146.0 146.0,146.0 150.0,245.0 101.0,245.0" fill="url(#rgA2)" /><polygon points="97.0,146.0 111.0,146.0 115.0,245.0 103.0,245.0" fill="url(#rgA3)" /><polygon points="128.0,146.0 143.0,146.0 146.0,245.0 131.0,245.0" fill="url(#rgA4)" /></g><polygon points="110.5,146.0 114.0,146.0 117.0,245.0 114.0,245.0" fill="#8f9436" opacity="0.5" filter="url(#b1)"/><polygon points="141.5,146.0 145.0,146.0 148.0,245.0 145.0,245.0" fill="#8f7036" opacity="0.5" filter="url(#b1)"/><polygon points="234.0,144.0 241.0,144.0 249.0,244.0 242.0,244.0" fill="#7cc246" opacity="0.45" filter="url(#b3)"/><polygon points="28.0,222.0 332.0,222.0 332.0,247.0 28.0,247.0" fill="url(#frA)" /></g><path d="M58,147.5 L60,146.8 C70,146 78,144.5 82,143 C88,141 91,139 92.5,137.6 C95,131 96.5,126 97.5,121.4 L100.6,105 C102,98 103.5,92 105,90 C106.5,93 107.7,99 108.7,105 L112.7,119.4 C114.5,123 116,125 117.8,125.5 C119.5,124.5 121.5,120 122.9,115.3 L127,80.9 L131,50.4 C132,43 133,39 133.6,38.3 C134.5,40 135.8,46 137,54.5 L140.1,80.9 L143.2,111.3 L146.2,129.5 C148,135 149.5,138 151.3,139.7 C154,141.5 157,143 161.4,143.7 C168,145 174,145.5 180,145.8 L182,147.5 Z" fill="url(#gInA)" /><path d="M133.6,38.5 L137,54.5 L140.1,80.9 L143.2,111.3 L146.2,129.5 L149,140 L147,147.5 L143.5,147.5 L141.5,120 L139,85 L136.2,56 Z" fill="#a94f28" opacity="0.55"/><path d="M105,90 L108.7,105 L112.7,119.4 L115,124 L114,147.5 L110.5,147.5 L109.8,120 L107.6,105 Z" fill="#a68a30" opacity="0.4"/><line x1="39.5" y1="245.3" x2="329.5" y2="242.3" stroke="#111" stroke-width="1.3"/><line x1="53.8" y1="245.2" x2="53.8" y2="249.7" stroke="#333" stroke-width="1.0"/><line x1="68.4" y1="245.0" x2="68.4" y2="254.0" stroke="#333" stroke-width="1.0"/><line x1="82.9" y1="244.9" x2="82.9" y2="249.4" stroke="#333" stroke-width="1.0"/><line x1="97.5" y1="244.7" x2="97.5" y2="249.2" stroke="#333" stroke-width="1.0"/><line x1="112.0" y1="244.5" x2="112.0" y2="249.0" stroke="#333" stroke-width="1.0"/><line x1="126.6" y1="244.4" x2="126.6" y2="248.9" stroke="#333" stroke-width="1.0"/><line x1="141.2" y1="244.2" x2="141.2" y2="248.7" stroke="#333" stroke-width="1.0"/><line x1="155.7" y1="244.1" x2="155.7" y2="248.6" stroke="#333" stroke-width="1.0"/><line x1="170.3" y1="243.9" x2="170.3" y2="248.4" stroke="#333" stroke-width="1.0"/><line x1="184.8" y1="243.8" x2="184.8" y2="252.8" stroke="#333" stroke-width="1.0"/><line x1="199.4" y1="243.6" x2="199.4" y2="248.1" stroke="#333" stroke-width="1.0"/><line x1="214.0" y1="243.5" x2="214.0" y2="248.0" stroke="#333" stroke-width="1.0"/><line x1="228.5" y1="243.3" x2="228.5" y2="247.8" stroke="#333" stroke-width="1.0"/><line x1="243.1" y1="243.2" x2="243.1" y2="247.7" stroke="#333" stroke-width="1.0"/><line x1="257.6" y1="243.0" x2="257.6" y2="247.5" stroke="#333" stroke-width="1.0"/><line x1="272.2" y1="242.9" x2="272.2" y2="247.4" stroke="#333" stroke-width="1.0"/><line x1="286.8" y1="242.7" x2="286.8" y2="247.2" stroke="#333" stroke-width="1.0"/><line x1="301.3" y1="242.6" x2="301.3" y2="251.6" stroke="#333" stroke-width="1.0"/><line x1="315.9" y1="242.4" x2="315.9" y2="246.9" stroke="#333" stroke-width="1.0"/><line x1="329.5" y1="242.3" x2="329.5" y2="246.8" stroke="#333" stroke-width="1.0"/><text transform="translate(57.14,277.67) scale(17.1658,22.6761)" font-size="1" font-weight="normal">96.4</text><text transform="translate(170.22,272.67) scale(17.6882,22.5352)" font-size="1" font-weight="normal">96.0</text><text transform="translate(283.27,270.29) scale(17.1429,20.5319)" font-size="1" font-weight="bold">[ppm]</text><text transform="translate(106.52,76.11) rotate(-90) scale(17.6744,18.2857)" font-size="1" font-weight="normal">αM</text><text transform="translate(139.96,30.25) rotate(-90) scale(16.4286,17.3404)" font-size="1" font-weight="normal">βM</text><text transform="translate(19.32,233.49) rotate(-95.10)" font-size="20.16" font-weight="normal">Time</text><line x1="25.2" y1="243.2" x2="18.9" y2="171.9" stroke="#000" stroke-width="2.4"/><polygon points="17.1,152 28.5,173.1 9.6,174.8" fill="#000"/><polygon points="28.0,391.4 32.4,389.9 36.8,390.1 41.2,390.9 45.7,391.7 50.1,390.0 54.5,389.8 58.9,390.1 63.3,391.6 67.8,389.7 72.2,391.5 76.6,391.2 81.0,389.5 85.4,390.6 89.8,390.3 94.2,390.1 98.7,391.8 103.1,389.0 107.5,388.8 111.9,391.5 116.3,389.8 120.8,389.1 125.2,389.4 129.6,389.5 134.0,389.8 140.0,386.0 146.0,380.0 150.0,374.0 154.5,368.6 158.0,374.0 160.0,382.0 164.0,388.5 174.0,388.6 180.0,383.0 184.0,377.0 186.9,374.7 190.0,377.0 193.0,383.0 198.0,388.4 200.0,388.4 204.5,388.9 209.0,387.1 213.5,388.7 218.0,389.3 222.5,389.3 227.0,388.3 231.5,388.7 236.0,387.8 240.5,388.3 245.0,387.0 249.5,388.7 254.0,388.5 258.5,387.5 263.0,387.8 267.5,388.8 272.0,387.9 276.5,389.4 281.0,389.5 285.5,389.0 290.0,388.0 295.6,385.2 301.1,383.2 306.7,381.0 312.3,379.5 317.9,376.7 323.5,374.8 329.0,371.8 334.6,370.0 340.0,366.0 425.0,366.0 430.0,386.0 436.0,383.0 443.8,378.9 450.5,372.0 458.1,369.6 462.0,374.0 465.7,382.2 470.0,386.0 476.0,387.5 476.0,387.5 480.0,387.7 484.0,387.8 488.0,388.3 492.0,386.7 496.0,387.7 500.0,388.4 504.0,388.4 508.0,386.2 512.0,387.5 516.0,387.4 520.0,387.0 524.0,388.4 528.0,387.0 532.0,386.7 536.0,388.1 540.0,387.2 544.0,386.1 548.0,386.1 552.0,386.6 556.0,385.2 560.0,386.9 564.0,386.5 589.7,538.6 585.6,539.0 581.6,539.4 577.5,540.5 573.5,540.9 569.4,541.2 565.4,539.9 561.3,541.9 557.2,540.6 553.2,540.6 549.1,540.2 545.1,541.8 541.0,542.0 536.5,541.6 532.1,541.6 527.6,541.0 523.2,540.8 518.7,538.4 514.2,539.9 509.8,538.1 505.3,538.1 500.9,537.5 496.4,537.5 492.0,534.9 487.5,535.0 459.0,524.7 450.0,520.9 447.1,518.4 444.6,511.6 442.0,501.5 437.8,498.1 434.5,499.8 431.1,503.2 427.7,498.1 424.3,488.0 419.3,466.0 412.5,445.7 405.7,423.8 400.7,401.8 399.8,400.1 398.1,415.3 395.6,440.7 393.1,457.6 389.7,481.2 386.3,471.1 383.8,458.4 382.1,471.1 379.6,481.2 375.3,494.7 370.3,506.6 365.2,516.7 358.4,523.4 350.0,526.8 330.5,530.0 310.0,536.0 290.0,538.3 285.7,537.9 281.4,540.1 277.1,540.2 272.8,540.2 268.5,539.9 264.3,540.3 260.0,537.7 255.7,539.8 251.4,538.8 247.1,540.4 242.8,539.6 238.5,540.2 234.2,540.3 229.9,540.5 225.6,541.4 221.3,542.1 217.1,540.2 212.8,541.8 208.5,542.2 204.2,540.8 199.9,540.0 195.6,541.4 191.3,542.4 187.0,541.7 182.7,540.8 178.4,542.6 174.1,541.5 169.9,543.5 165.6,541.3 161.3,542.8 157.0,542.3 152.7,544.3 148.4,541.8 144.1,544.3 139.8,542.9 135.5,542.9 131.2,542.5 126.9,543.6 122.7,545.1 118.4,545.5 114.1,545.4 109.8,544.5 105.5,543.5 101.2,544.5 96.9,545.1 92.6,544.1 88.3,546.4 84.0,543.7 79.7,544.3 75.5,544.4 71.2,544.4 66.9,544.2 62.6,544.9 58.3,545.5 54.0,546.0" fill="#48ae4b"/><polygon points="28.0,391.4 32.4,389.9 36.8,390.1 41.2,390.9 45.7,391.7 50.1,390.0 54.5,389.8 58.9,390.1 63.3,391.6 67.8,389.7 72.2,391.5 76.6,391.2 81.0,389.5 85.4,390.6 89.8,390.3 94.2,390.1 98.7,391.8 103.1,389.0 107.5,388.8 111.9,391.5 116.3,389.8 120.8,389.1 125.2,389.4 129.6,389.5 134.0,389.8 140.0,386.0 146.0,380.0 150.0,374.0 154.5,368.6 158.0,374.0 160.0,382.0 164.0,388.5 174.0,388.6 180.0,383.0 184.0,377.0 186.9,374.7 190.0,377.0 193.0,383.0 198.0,388.4 200.0,388.4 204.5,388.9 209.0,387.1 213.5,388.7 218.0,389.3 222.5,389.3 227.0,388.3 231.5,388.7 236.0,387.8 240.5,388.3 245.0,387.0 249.5,388.7 254.0,388.5 258.5,387.5 263.0,387.8 267.5,388.8 272.0,387.9 276.5,389.4 281.0,389.5 285.5,389.0 290.0,388.0 295.6,385.2 301.1,383.2 306.7,381.0 312.3,379.5 317.9,376.7 323.5,374.8 329.0,371.8 334.6,370.0 340.0,366.0 425.0,366.0 430.0,386.0 436.0,383.0 443.8,378.9 450.5,372.0 458.1,369.6 462.0,374.0 465.7,382.2 470.0,386.0 476.0,387.5 476.0,387.5 480.0,387.7 484.0,387.8 488.0,388.3 492.0,386.7 496.0,387.7 500.0,388.4 504.0,388.4 508.0,386.2 512.0,387.5 516.0,387.4 520.0,387.0 524.0,388.4 528.0,387.0 532.0,386.7 536.0,388.1 540.0,387.2 544.0,386.1 548.0,386.1 552.0,386.6 556.0,385.2 560.0,386.9 564.0,386.5 589.7,538.6 585.6,539.0 581.6,539.4 577.5,540.5 573.5,540.9 569.4,541.2 565.4,539.9 561.3,541.9 557.2,540.6 553.2,540.6 549.1,540.2 545.1,541.8 541.0,542.0 536.5,541.6 532.1,541.6 527.6,541.0 523.2,540.8 518.7,538.4 514.2,539.9 509.8,538.1 505.3,538.1 500.9,537.5 496.4,537.5 492.0,534.9 487.5,535.0 459.0,524.7 450.0,520.9 447.1,518.4 444.6,511.6 442.0,501.5 437.8,498.1 434.5,499.8 431.1,503.2 427.7,498.1 424.3,488.0 419.3,466.0 412.5,445.7 405.7,423.8 400.7,401.8 399.8,400.1 398.1,415.3 395.6,440.7 393.1,457.6 389.7,481.2 386.3,471.1 383.8,458.4 382.1,471.1 379.6,481.2 375.3,494.7 370.3,506.6 365.2,516.7 358.4,523.4 350.0,526.8 330.5,530.0 310.0,536.0 290.0,538.3 285.7,537.9 281.4,540.1 277.1,540.2 272.8,540.2 268.5,539.9 264.3,540.3 260.0,537.7 255.7,539.8 251.4,538.8 247.1,540.4 242.8,539.6 238.5,540.2 234.2,540.3 229.9,540.5 225.6,541.4 221.3,542.1 217.1,540.2 212.8,541.8 208.5,542.2 204.2,540.8 199.9,540.0 195.6,541.4 191.3,542.4 187.0,541.7 182.7,540.8 178.4,542.6 174.1,541.5 169.9,543.5 165.6,541.3 161.3,542.8 157.0,542.3 152.7,544.3 148.4,541.8 144.1,544.3 139.8,542.9 135.5,542.9 131.2,542.5 126.9,543.6 122.7,545.1 118.4,545.5 114.1,545.4 109.8,544.5 105.5,543.5 101.2,544.5 96.9,545.1 92.6,544.1 88.3,546.4 84.0,543.7 79.7,544.3 75.5,544.4 71.2,544.4 66.9,544.2 62.6,544.9 58.3,545.5 54.0,546.0" fill="#000" filter="url(#tex2)"/><polygon points="28.0,391.4 32.4,389.9 36.8,390.1 41.2,390.9 45.7,391.7 50.1,390.0 54.5,389.8 58.9,390.1 63.3,391.6 67.8,389.7 72.2,391.5 76.6,391.2 81.0,389.5 85.4,390.6 89.8,390.3 94.2,390.1 98.7,391.8 103.1,389.0 107.5,388.8 111.9,391.5 116.3,389.8 120.8,389.1 125.2,389.4 129.6,389.5 134.0,389.8 140.0,386.0 146.0,380.0 150.0,374.0 154.5,368.6 158.0,374.0 160.0,382.0 164.0,388.5 174.0,388.6 180.0,383.0 184.0,377.0 186.9,374.7 190.0,377.0 193.0,383.0 198.0,388.4 200.0,388.4 204.5,388.9 209.0,387.1 213.5,388.7 218.0,389.3 222.5,389.3 227.0,388.3 231.5,388.7 236.0,387.8 240.5,388.3 245.0,387.0 249.5,388.7 254.0,388.5 258.5,387.5 263.0,387.8 267.5,388.8 272.0,387.9 276.5,389.4 281.0,389.5 285.5,389.0 290.0,388.0 295.6,385.2 301.1,383.2 306.7,381.0 312.3,379.5 317.9,376.7 323.5,374.8 329.0,371.8 334.6,370.0 340.0,366.0 425.0,366.0 430.0,386.0 436.0,383.0 443.8,378.9 450.5,372.0 458.1,369.6 462.0,374.0 465.7,382.2 470.0,386.0 476.0,387.5 476.0,387.5 480.0,387.7 484.0,387.8 488.0,388.3 492.0,386.7 496.0,387.7 500.0,388.4 504.0,388.4 508.0,386.2 512.0,387.5 516.0,387.4 520.0,387.0 524.0,388.4 528.0,387.0 532.0,386.7 536.0,388.1 540.0,387.2 544.0,386.1 548.0,386.1 552.0,386.6 556.0,385.2 560.0,386.9 564.0,386.5 589.7,538.6 585.6,539.0 581.6,539.4 577.5,540.5 573.5,540.9 569.4,541.2 565.4,539.9 561.3,541.9 557.2,540.6 553.2,540.6 549.1,540.2 545.1,541.8 541.0,542.0 536.5,541.6 532.1,541.6 527.6,541.0 523.2,540.8 518.7,538.4 514.2,539.9 509.8,538.1 505.3,538.1 500.9,537.5 496.4,537.5 492.0,534.9 487.5,535.0 459.0,524.7 450.0,520.9 447.1,518.4 444.6,511.6 442.0,501.5 437.8,498.1 434.5,499.8 431.1,503.2 427.7,498.1 424.3,488.0 419.3,466.0 412.5,445.7 405.7,423.8 400.7,401.8 399.8,400.1 398.1,415.3 395.6,440.7 393.1,457.6 389.7,481.2 386.3,471.1 383.8,458.4 382.1,471.1 379.6,481.2 375.3,494.7 370.3,506.6 365.2,516.7 358.4,523.4 350.0,526.8 330.5,530.0 310.0,536.0 290.0,538.3 285.7,537.9 281.4,540.1 277.1,540.2 272.8,540.2 268.5,539.9 264.3,540.3 260.0,537.7 255.7,539.8 251.4,538.8 247.1,540.4 242.8,539.6 238.5,540.2 234.2,540.3 229.9,540.5 225.6,541.4 221.3,542.1 217.1,540.2 212.8,541.8 208.5,542.2 204.2,540.8 199.9,540.0 195.6,541.4 191.3,542.4 187.0,541.7 182.7,540.8 178.4,542.6 174.1,541.5 169.9,543.5 165.6,541.3 161.3,542.8 157.0,542.3 152.7,544.3 148.4,541.8 144.1,544.3 139.8,542.9 135.5,542.9 131.2,542.5 126.9,543.6 122.7,545.1 118.4,545.5 114.1,545.4 109.8,544.5 105.5,543.5 101.2,544.5 96.9,545.1 92.6,544.1 88.3,546.4 84.0,543.7 79.7,544.3 75.5,544.4 71.2,544.4 66.9,544.2 62.6,544.9 58.3,545.5 54.0,546.0" fill="url(#tealA2)" /><polygon points="28.0,391.4 32.4,389.9 36.8,390.1 41.2,390.9 45.7,391.7 50.1,390.0 54.5,389.8 58.9,390.1 63.3,391.6 67.8,389.7 72.2,391.5 76.6,391.2 81.0,389.5 85.4,390.6 89.8,390.3 94.2,390.1 98.7,391.8 103.1,389.0 107.5,388.8 111.9,391.5 116.3,389.8 120.8,389.1 125.2,389.4 129.6,389.5 134.0,389.8 140.0,386.0 146.0,380.0 150.0,374.0 154.5,368.6 158.0,374.0 160.0,382.0 164.0,388.5 174.0,388.6 180.0,383.0 184.0,377.0 186.9,374.7 190.0,377.0 193.0,383.0 198.0,388.4 200.0,388.4 204.5,388.9 209.0,387.1 213.5,388.7 218.0,389.3 222.5,389.3 227.0,388.3 231.5,388.7 236.0,387.8 240.5,388.3 245.0,387.0 249.5,388.7 254.0,388.5 258.5,387.5 263.0,387.8 267.5,388.8 272.0,387.9 276.5,389.4 281.0,389.5 285.5,389.0 290.0,388.0 295.6,385.2 301.1,383.2 306.7,381.0 312.3,379.5 317.9,376.7 323.5,374.8 329.0,371.8 334.6,370.0 340.0,366.0 425.0,366.0 430.0,386.0 436.0,383.0 443.8,378.9 450.5,372.0 458.1,369.6 462.0,374.0 465.7,382.2 470.0,386.0 476.0,387.5 476.0,387.5 480.0,387.7 484.0,387.8 488.0,388.3 492.0,386.7 496.0,387.7 500.0,388.4 504.0,388.4 508.0,386.2 512.0,387.5 516.0,387.4 520.0,387.0 524.0,388.4 528.0,387.0 532.0,386.7 536.0,388.1 540.0,387.2 544.0,386.1 548.0,386.1 552.0,386.6 556.0,385.2 560.0,386.9 564.0,386.5 589.7,538.6 585.6,539.0 581.6,539.4 577.5,540.5 573.5,540.9 569.4,541.2 565.4,539.9 561.3,541.9 557.2,540.6 553.2,540.6 549.1,540.2 545.1,541.8 541.0,542.0 536.5,541.6 532.1,541.6 527.6,541.0 523.2,540.8 518.7,538.4 514.2,539.9 509.8,538.1 505.3,538.1 500.9,537.5 496.4,537.5 492.0,534.9 487.5,535.0 459.0,524.7 450.0,520.9 447.1,518.4 444.6,511.6 442.0,501.5 437.8,498.1 434.5,499.8 431.1,503.2 427.7,498.1 424.3,488.0 419.3,466.0 412.5,445.7 405.7,423.8 400.7,401.8 399.8,400.1 398.1,415.3 395.6,440.7 393.1,457.6 389.7,481.2 386.3,471.1 383.8,458.4 382.1,471.1 379.6,481.2 375.3,494.7 370.3,506.6 365.2,516.7 358.4,523.4 350.0,526.8 330.5,530.0 310.0,536.0 290.0,538.3 285.7,537.9 281.4,540.1 277.1,540.2 272.8,540.2 268.5,539.9 264.3,540.3 260.0,537.7 255.7,539.8 251.4,538.8 247.1,540.4 242.8,539.6 238.5,540.2 234.2,540.3 229.9,540.5 225.6,541.4 221.3,542.1 217.1,540.2 212.8,541.8 208.5,542.2 204.2,540.8 199.9,540.0 195.6,541.4 191.3,542.4 187.0,541.7 182.7,540.8 178.4,542.6 174.1,541.5 169.9,543.5 165.6,541.3 161.3,542.8 157.0,542.3 152.7,544.3 148.4,541.8 144.1,544.3 139.8,542.9 135.5,542.9 131.2,542.5 126.9,543.6 122.7,545.1 118.4,545.5 114.1,545.4 109.8,544.5 105.5,543.5 101.2,544.5 96.9,545.1 92.6,544.1 88.3,546.4 84.0,543.7 79.7,544.3 75.5,544.4 71.2,544.4 66.9,544.2 62.6,544.9 58.3,545.5 54.0,546.0" fill="url(#frMA)" /><g clip-path="url(#cMainA)"><polygon points="230.0,360.0 350.0,360.0 370.0,545.0 230.0,545.0" fill="url(#glA)" /><g filter="url(#b3)"><polygon points="144.0,388.0 163.0,388.0 170.0,410.0 166.0,470.0 152.0,470.0" fill="#b9d543" opacity="0.8"/><polygon points="182.0,388.0 194.0,388.0 216.0,522.0 204.0,524.0" fill="#b2d443" opacity="0.75"/><polygon points="160.0,420.0 171.0,410.0 186.0,540.0 150.0,542.0 152.0,500.0" fill="#d9d93d" opacity="0.95"/></g><polygon points="193.0,390.0 196.0,390.0 218.0,522.0 215.0,522.0" fill="#2e8a48" opacity="0.35" filter="url(#b1)"/><g filter="url(#b5)"><polygon points="436.0,380.0 452.0,380.0 462.0,525.0 446.0,520.0" fill="#bfd442" opacity="0.6"/><polygon points="450.0,380.0 470.0,380.0 486.0,500.0 462.0,500.0" fill="#c4d541" opacity="0.55"/></g></g><path d="M171,401 C172.5,410 173.8,416 174.3,421.4 L177.8,462 L181,490 L182,500 L169,500 L169,462 L168.2,421.4 C169,414 170,407 171,401 Z" fill="url(#gFrA)" /><path d="M171,401 L174.3,421.4 L177.8,462 L182.8,502.4 L186.9,532.8 L184.5,533 L180,502 L175.6,462 L172.6,421 Z" fill="url(#gFrA2)" /><path d="M138,390 C144,386 149,378 154.5,368.6 C157,371 159,379 166,390 Z" fill="url(#gBkA)" opacity="0.75"/><path d="M176,390 C181,386 183,378 186.9,374.7 C190,376 192,383 200,390 Z" fill="url(#gBkA)" opacity="0.65"/><g mask="url(#mFadeA)"><path d="M290,388.5 C300,386 312,383 320,378 C328,374 333,371 336,367 C340,362 342,355 343.3,350 C345,335 346.5,320 348,290 C349,250 349.5,200 350,170 C351,130 352,100 352.8,89.3 C354.5,100 357,125 359.6,147.6 C362,170 364,185 365.5,198 C367,212 368,222 368.5,232 C370,255 371,270 372,285 L400,300 L400,545 L290,545 Z" fill="url(#gDM)" /><path d="M352.8,89.3 C352,100 351,130 350,170 C349.5,200 349,250 348,290 L347,330 L356,330 C356,250 355,150 352.8,89.3 Z" fill="url(#gDMl)" /><path d="M366,240 L371.6,260 L374,330 L376,380 L380,430 L378,480 L370,480 L366,420 L362,360 Z" fill="url(#gS1)" opacity="0.85"/><path d="M374,222 L375,219.3 C377,230 380,245 384,258 L396.7,302.8 L400.5,400 L396,440 L389.7,481.2 L386.3,471.1 L383.8,458.4 L380,400 L376,330 L372,285 C373,260 373.5,240 374,222 Z" fill="url(#gMx)" /><path d="M375,219.3 C377,230 380,245 384,258 L396.7,302.8 L394.5,304 L382,260 C379,248 377,235 375,219.3 Z" fill="#8c4a20" opacity="0.55"/><path d="M384,325 L388,335 L392,420 L389.7,470 L385,460 L382,400 Z" fill="url(#gMxy)" /></g><path d="M409.6,33.2 C410.5,40 412,60 413.4,99 L415.3,230 L418.7,300 L420.4,330 C423,345 426,355 430.5,371 L433.6,384 L437,420 L442,470 L446,505 L442,501.5 L437.8,498.1 L434.5,499.8 L431.1,503.2 L427.7,498.1 L424.3,488 L419.3,466 L412.5,445.7 L405.7,423.8 L400.7,401.8 L400,302.8 L404.3,220 L407.9,99 C408.3,60 409,40 409.6,33.2 Z" fill="url(#gMMM)" /><path d="M410.3,45 C411.5,60 412.5,80 413.4,99 L415.3,230 L417.4,290 L420.4,335 L421,384 L425,440 L431.1,503.2 L427.7,498.1 L424.3,488 L419.3,466 L412.5,445.7 L405.7,423.8 L401.5,402 L402.5,330 L405.5,290 L409.2,220 L410.6,99 Z" fill="url(#gBrown)" /><path d="M418.7,300 L420.4,330 C423,345 426,355 430.5,371 L433.6,384 L437,420 L442,470 L446,505 L442,501.5 L437.8,498.1 L434.5,499.8 L431.1,503.2 L425,440 L421,384 L420.4,335 Z" fill="url(#gMMy)" /><path d="M428,394 C436,384 440,381 443.8,378.9 C447,376 449,373 450.5,372 C453,370 456,369 458.1,369.6 C461,372 463,378 465.7,382.2 C468,385 471,388 478,394 Z" fill="url(#gBk2)" opacity="0.55"/><g clip-path="url(#cMainA)"><g filter="url(#b3)"><polygon points="470.0,412.0 475.0,412.0 492.0,528.0 458.0,528.0" fill="#d8d73c" opacity="0.85"/></g></g><path d="M472.5,405 L475,424.5 L477.6,458 L482.6,500.5 L487.7,525.8 L462,526 L462,500 L464,449.8 L467.4,421 Z" fill="url(#gMGM)" /><path d="M472.5,405 L475,424.5 L477.6,458 L482.6,500.5 L487.7,525.8 L485,526 L480,500 L475.5,458 L473,424 Z" fill="url(#gMGMs)" /><path d="M399.8,400.1 L398.1,415.3 L395.6,440.7 L393.1,457.6 L389.7,481.2 L386.3,471.1 L383.8,458.4 L382.1,471.1 L379.6,481.2 L375.3,494.7 L370.3,506.6 L365.2,516.7 L358.4,523.4 L350,526.8 L330.5,530 L310,536 L290,538.3 L290,548 L455,548 L450,520.9 L447.1,518.4 L444.6,511.6 L442,501.5 L437.8,498.1 L434.5,499.8 L431.1,503.2 L427.7,498.1 L424.3,488 L419.3,466 L412.5,445.7 L405.7,423.8 L400.7,401.8 Z" fill="#fff" /><line x1="371.6" y1="212.6" x2="428.4" y2="212.6" stroke="#111" stroke-width="1.3"/><line x1="372.2" y1="212.6" x2="372.2" y2="218.5" stroke="#111" stroke-width="1.3"/><line x1="427.8" y1="212.6" x2="427.8" y2="218.5" stroke="#111" stroke-width="1.3"/><text transform="translate(358.30,80.69) rotate(-90) scale(16.1871,18.8406)" font-size="1" font-weight="normal">ΔM</text><line x1="360.1" y1="69.5" x2="360.1" y2="80.2" stroke="#111" stroke-width="1.5"/><text transform="translate(400.30,121.03) rotate(-90) scale(15.4274,18.8406)" font-size="1" font-weight="normal">MMM</text><line x1="401.8" y1="95.5" x2="401.8" y2="106.8" stroke="#111" stroke-width="1.5"/><text transform="translate(428.93,203.60) scale(14.6774,18.5507)" font-size="1" font-weight="normal">Mx</text><line x1="428.7" y1="205.9" x2="441.2" y2="205.9" stroke="#111" stroke-width="1.3"/><text transform="translate(450.11,353.03) rotate(-90) scale(15.3947,18.5915)" font-size="1" font-weight="normal">MGM</text><line x1="452.0" y1="328.5" x2="452.0" y2="339.5" stroke="#111" stroke-width="1.5"/><text transform="translate(479.42,353.36) rotate(-90) scale(15.2212,18.4507)" font-size="1" font-weight="normal">GGM</text><line x1="481.4" y1="329.0" x2="481.4" y2="341.0" stroke="#111" stroke-width="1.5"/><line x1="445.2" y1="360.2" x2="449.8" y2="372.4" stroke="#111" stroke-width="1.2"/><line x1="466.0" y1="357.7" x2="458.4" y2="368.8" stroke="#111" stroke-width="1.2"/><text transform="translate(157.30,362.16) rotate(-90) scale(15.1770,20.4225)" font-size="1" font-weight="normal">GMG</text><line x1="158.9" y1="338.0" x2="158.9" y2="350.0" stroke="#111" stroke-width="1.5"/><text transform="translate(193.91,362.16) rotate(-90) scale(15.2489,19.1549)" font-size="1" font-weight="normal">GGG</text><line x1="195.6" y1="339.0" x2="195.6" y2="350.5" stroke="#111" stroke-width="1.5"/><line x1="53.0" y1="545.5" x2="589.7" y2="538.5" stroke="#111" stroke-width="1.3"/><line x1="54.9" y1="545.5" x2="54.9" y2="550.0" stroke="#333" stroke-width="1.0"/><line x1="72.7" y1="545.2" x2="72.7" y2="549.7" stroke="#333" stroke-width="1.0"/><line x1="90.6" y1="545.0" x2="90.6" y2="549.5" stroke="#333" stroke-width="1.0"/><line x1="108.4" y1="544.8" x2="108.4" y2="549.3" stroke="#333" stroke-width="1.0"/><line x1="126.3" y1="544.5" x2="126.3" y2="549.0" stroke="#333" stroke-width="1.0"/><line x1="144.1" y1="544.3" x2="144.1" y2="553.3" stroke="#333" stroke-width="1.0"/><line x1="161.9" y1="544.1" x2="161.9" y2="548.6" stroke="#333" stroke-width="1.0"/><line x1="179.8" y1="543.8" x2="179.8" y2="548.3" stroke="#333" stroke-width="1.0"/><line x1="197.6" y1="543.6" x2="197.6" y2="548.1" stroke="#333" stroke-width="1.0"/><line x1="215.5" y1="543.4" x2="215.5" y2="547.9" stroke="#333" stroke-width="1.0"/><line x1="233.3" y1="543.1" x2="233.3" y2="547.6" stroke="#333" stroke-width="1.0"/><line x1="251.1" y1="542.9" x2="251.1" y2="547.4" stroke="#333" stroke-width="1.0"/><line x1="269.0" y1="542.7" x2="269.0" y2="547.2" stroke="#333" stroke-width="1.0"/><line x1="286.8" y1="542.5" x2="286.8" y2="547.0" stroke="#333" stroke-width="1.0"/><line x1="304.7" y1="542.2" x2="304.7" y2="546.7" stroke="#333" stroke-width="1.0"/><line x1="322.5" y1="542.0" x2="322.5" y2="551.0" stroke="#333" stroke-width="1.0"/><line x1="340.3" y1="541.8" x2="340.3" y2="546.3" stroke="#333" stroke-width="1.0"/><line x1="358.2" y1="541.5" x2="358.2" y2="546.0" stroke="#333" stroke-width="1.0"/><line x1="376.0" y1="541.3" x2="376.0" y2="545.8" stroke="#333" stroke-width="1.0"/><line x1="393.9" y1="541.1" x2="393.9" y2="545.6" stroke="#333" stroke-width="1.0"/><line x1="411.7" y1="540.8" x2="411.7" y2="545.3" stroke="#333" stroke-width="1.0"/><line x1="429.5" y1="540.6" x2="429.5" y2="545.1" stroke="#333" stroke-width="1.0"/><line x1="447.4" y1="540.4" x2="447.4" y2="544.9" stroke="#333" stroke-width="1.0"/><line x1="465.2" y1="540.1" x2="465.2" y2="544.6" stroke="#333" stroke-width="1.0"/><line x1="483.1" y1="539.9" x2="483.1" y2="544.4" stroke="#333" stroke-width="1.0"/><line x1="500.9" y1="539.7" x2="500.9" y2="548.7" stroke="#333" stroke-width="1.0"/><line x1="518.7" y1="539.4" x2="518.7" y2="543.9" stroke="#333" stroke-width="1.0"/><line x1="536.6" y1="539.2" x2="536.6" y2="543.7" stroke="#333" stroke-width="1.0"/><line x1="554.4" y1="539.0" x2="554.4" y2="543.5" stroke="#333" stroke-width="1.0"/><line x1="572.3" y1="538.7" x2="572.3" y2="543.2" stroke="#333" stroke-width="1.0"/><line x1="589.5" y1="538.5" x2="589.5" y2="543.0" stroke="#333" stroke-width="1.0"/><text transform="translate(130.15,573.28) scale(16.8590,21.8310)" font-size="1" font-weight="normal">104</text><text transform="translate(307.01,569.28) scale(17.4194,21.9718)" font-size="1" font-weight="normal">103</text><text transform="translate(485.82,565.70) scale(17.2078,19.8592)" font-size="1" font-weight="normal">102</text><text transform="translate(542.36,564.78) scale(17.2556,19.1489)" font-size="1" font-weight="bold">[ppm]</text><text transform="translate(32.31,512.00) rotate(-99.90)" font-size="19.81" font-weight="normal">Time</text><line x1="44.2" y1="544.4" x2="22.1" y2="417.4" stroke="#000" stroke-width="2.4"/><polygon points="18.5,396.7 31.8,417.7 13.1,421.0" fill="#000"/><text transform="translate(17.59,621.20) scale(33.0233,33.1884)" font-size="1" font-weight="bold">B.</text><polygon points="28.4,756.5 32.4,756.1 36.4,755.6 40.4,755.4 44.5,757.4 48.5,756.4 52.5,756.7 56.5,756.2 60.5,755.7 64.5,756.6 68.6,756.1 72.6,756.6 76.6,756.2 80.6,756.6 84.6,755.4 88.6,754.6 92.6,754.5 96.7,756.0 100.7,754.4 104.7,755.7 108.7,755.6 112.7,753.9 116.7,755.9 120.8,753.7 124.8,756.0 128.8,755.9 132.8,754.1 136.8,755.4 140.8,755.4 144.8,753.6 148.9,755.1 152.9,753.5 156.9,755.6 160.9,754.9 164.9,755.7 168.9,753.0 173.0,753.7 177.0,754.5 181.0,754.4 185.0,753.1 189.0,755.1 193.0,754.9 197.1,753.3 201.1,752.8 205.1,754.2 209.1,753.4 213.1,754.0 217.1,753.5 221.1,753.2 225.2,752.1 229.2,752.3 233.2,753.2 237.2,753.8 241.2,752.9 245.2,753.8 249.3,753.1 253.3,754.0 257.3,753.3 261.3,752.3 265.3,751.7 269.3,751.5 273.3,751.3 277.4,753.6 281.4,753.6 285.4,753.1 289.4,751.3 293.4,752.8 297.4,751.2 301.5,753.3 305.5,752.6 309.5,752.8 313.5,752.0 327.4,842.8 323.4,843.2 319.4,841.5 315.4,842.2 311.4,842.1 307.3,843.6 303.3,843.4 299.3,844.1 295.3,841.8 291.3,842.8 287.3,841.7 283.3,842.3 279.3,843.1 275.3,841.8 271.2,842.3 267.2,843.6 263.2,843.3 259.2,842.4 255.2,843.5 251.2,844.1 247.2,841.9 243.2,844.1 239.2,843.9 235.1,842.9 231.1,842.4 227.1,844.6 223.1,842.9 219.1,842.3 215.1,842.3 211.1,844.4 207.1,843.8 203.1,844.4 199.0,844.2 195.0,843.6 191.0,844.9 187.0,843.2 183.0,843.8 179.0,844.6 175.0,844.0 171.0,844.7 166.9,843.9 162.9,844.3 158.9,842.5 154.9,843.0 150.9,843.2 146.9,842.6 142.9,843.1 138.9,842.7 134.9,843.3 130.8,844.3 126.8,843.5 122.8,843.6 118.8,843.2 114.8,843.3 110.8,845.2 106.8,844.5 102.8,844.4 98.8,843.2 94.7,844.7 90.7,843.2 86.7,843.8 82.7,845.5 78.7,844.6 74.7,844.4 70.7,844.8 66.7,845.2 62.7,845.1 58.6,843.6 54.6,843.0 50.6,843.8 46.6,843.7 42.6,844.4" fill="#48ae4b"/><polygon points="28.4,756.5 32.4,756.1 36.4,755.6 40.4,755.4 44.5,757.4 48.5,756.4 52.5,756.7 56.5,756.2 60.5,755.7 64.5,756.6 68.6,756.1 72.6,756.6 76.6,756.2 80.6,756.6 84.6,755.4 88.6,754.6 92.6,754.5 96.7,756.0 100.7,754.4 104.7,755.7 108.7,755.6 112.7,753.9 116.7,755.9 120.8,753.7 124.8,756.0 128.8,755.9 132.8,754.1 136.8,755.4 140.8,755.4 144.8,753.6 148.9,755.1 152.9,753.5 156.9,755.6 160.9,754.9 164.9,755.7 168.9,753.0 173.0,753.7 177.0,754.5 181.0,754.4 185.0,753.1 189.0,755.1 193.0,754.9 197.1,753.3 201.1,752.8 205.1,754.2 209.1,753.4 213.1,754.0 217.1,753.5 221.1,753.2 225.2,752.1 229.2,752.3 233.2,753.2 237.2,753.8 241.2,752.9 245.2,753.8 249.3,753.1 253.3,754.0 257.3,753.3 261.3,752.3 265.3,751.7 269.3,751.5 273.3,751.3 277.4,753.6 281.4,753.6 285.4,753.1 289.4,751.3 293.4,752.8 297.4,751.2 301.5,753.3 305.5,752.6 309.5,752.8 313.5,752.0 327.4,842.8 323.4,843.2 319.4,841.5 315.4,842.2 311.4,842.1 307.3,843.6 303.3,843.4 299.3,844.1 295.3,841.8 291.3,842.8 287.3,841.7 283.3,842.3 279.3,843.1 275.3,841.8 271.2,842.3 267.2,843.6 263.2,843.3 259.2,842.4 255.2,843.5 251.2,844.1 247.2,841.9 243.2,844.1 239.2,843.9 235.1,842.9 231.1,842.4 227.1,844.6 223.1,842.9 219.1,842.3 215.1,842.3 211.1,844.4 207.1,843.8 203.1,844.4 199.0,844.2 195.0,843.6 191.0,844.9 187.0,843.2 183.0,843.8 179.0,844.6 175.0,844.0 171.0,844.7 166.9,843.9 162.9,844.3 158.9,842.5 154.9,843.0 150.9,843.2 146.9,842.6 142.9,843.1 138.9,842.7 134.9,843.3 130.8,844.3 126.8,843.5 122.8,843.6 118.8,843.2 114.8,843.3 110.8,845.2 106.8,844.5 102.8,844.4 98.8,843.2 94.7,844.7 90.7,843.2 86.7,843.8 82.7,845.5 78.7,844.6 74.7,844.4 70.7,844.8 66.7,845.2 62.7,845.1 58.6,843.6 54.6,843.0 50.6,843.8 46.6,843.7 42.6,844.4" fill="#000" filter="url(#texI)"/><polygon points="28.4,756.5 32.4,756.1 36.4,755.6 40.4,755.4 44.5,757.4 48.5,756.4 52.5,756.7 56.5,756.2 60.5,755.7 64.5,756.6 68.6,756.1 72.6,756.6 76.6,756.2 80.6,756.6 84.6,755.4 88.6,754.6 92.6,754.5 96.7,756.0 100.7,754.4 104.7,755.7 108.7,755.6 112.7,753.9 116.7,755.9 120.8,753.7 124.8,756.0 128.8,755.9 132.8,754.1 136.8,755.4 140.8,755.4 144.8,753.6 148.9,755.1 152.9,753.5 156.9,755.6 160.9,754.9 164.9,755.7 168.9,753.0 173.0,753.7 177.0,754.5 181.0,754.4 185.0,753.1 189.0,755.1 193.0,754.9 197.1,753.3 201.1,752.8 205.1,754.2 209.1,753.4 213.1,754.0 217.1,753.5 221.1,753.2 225.2,752.1 229.2,752.3 233.2,753.2 237.2,753.8 241.2,752.9 245.2,753.8 249.3,753.1 253.3,754.0 257.3,753.3 261.3,752.3 265.3,751.7 269.3,751.5 273.3,751.3 277.4,753.6 281.4,753.6 285.4,753.1 289.4,751.3 293.4,752.8 297.4,751.2 301.5,753.3 305.5,752.6 309.5,752.8 313.5,752.0 327.4,842.8 323.4,843.2 319.4,841.5 315.4,842.2 311.4,842.1 307.3,843.6 303.3,843.4 299.3,844.1 295.3,841.8 291.3,842.8 287.3,841.7 283.3,842.3 279.3,843.1 275.3,841.8 271.2,842.3 267.2,843.6 263.2,843.3 259.2,842.4 255.2,843.5 251.2,844.1 247.2,841.9 243.2,844.1 239.2,843.9 235.1,842.9 231.1,842.4 227.1,844.6 223.1,842.9 219.1,842.3 215.1,842.3 211.1,844.4 207.1,843.8 203.1,844.4 199.0,844.2 195.0,843.6 191.0,844.9 187.0,843.2 183.0,843.8 179.0,844.6 175.0,844.0 171.0,844.7 166.9,843.9 162.9,844.3 158.9,842.5 154.9,843.0 150.9,843.2 146.9,842.6 142.9,843.1 138.9,842.7 134.9,843.3 130.8,844.3 126.8,843.5 122.8,843.6 118.8,843.2 114.8,843.3 110.8,845.2 106.8,844.5 102.8,844.4 98.8,843.2 94.7,844.7 90.7,843.2 86.7,843.8 82.7,845.5 78.7,844.6 74.7,844.4 70.7,844.8 66.7,845.2 62.7,845.1 58.6,843.6 54.6,843.0 50.6,843.8 46.6,843.7 42.6,844.4" fill="url(#tealB)" /><g clip-path="url(#cInsB)"><g filter="url(#b3)"><polygon points="80.0,754.0 164.0,754.0 170.0,845.0 92.0,845.0" fill="url(#rgB1)" /><polygon points="92.0,754.0 149.0,754.0 155.0,845.0 102.0,845.0" fill="url(#rgB2)" /><polygon points="95.0,754.0 112.0,754.0 118.0,845.0 104.0,845.0" fill="url(#rgB3)" /><polygon points="124.0,754.0 145.0,754.0 151.0,845.0 130.0,845.0" fill="url(#rgB4)" /><polygon points="214.0,752.0 246.0,752.0 254.0,845.0 226.0,845.0" fill="url(#rgB1)" /><polygon points="223.0,752.0 238.0,752.0 246.0,845.0 232.0,845.0" fill="url(#rgB5)" /><polygon points="280.0,752.0 300.0,752.0 308.0,845.0 290.0,845.0" fill="url(#rgB1)" opacity="0.8"/></g><polygon points="112.0,754.0 115.5,754.0 121.0,845.0 118.0,845.0" fill="#8f9436" opacity="0.45" filter="url(#b1)"/><polygon points="144.0,754.0 147.5,754.0 153.0,845.0 150.0,845.0" fill="#8f7036" opacity="0.45" filter="url(#b1)"/><polygon points="237.0,752.0 240.0,752.0 248.0,845.0 245.0,845.0" fill="#8f9436" opacity="0.35" filter="url(#b1)"/><polygon points="28.0,820.0 330.0,820.0 330.0,847.0 28.0,847.0" fill="url(#frB)" /></g><path d="M56,757.5 L60,756.5 C68,755.5 72,754 74.2,753.3 C80,752 85,751 88.4,748.6 C90.5,745 92,742 93.1,739.1 L97.8,715.5 C99.5,706 101,699 102.1,696.1 C103.5,700 105,707 106.1,715.5 L110.8,729.7 C112,732 113.5,733.2 114.9,733.2 C116.5,731 118,727 119.1,722.6 L123.8,703.6 L127.3,656 C128.3,640 129.3,629 130.1,625.7 C131,629 132.5,640 135,656 L138,680 L141.6,703.6 L144,727.3 L146.3,741.5 C148,746 151,749.5 154.6,750.9 C159,753 163,755 168.8,755.7 C173,756.2 176,756.5 180,757.5 Z" fill="url(#gInB)" /><path d="M130.1,626 L135,656 L138,680 L141.6,703.6 L144,727.3 L146.3,741.5 L149,750 L147,757.5 L143.5,757.5 L142,730 L139.5,703 L136.5,680 L133.5,656 Z" fill="#a94f28" opacity="0.5"/><path d="M102.1,696.1 L106.1,715.5 L110.8,729.7 L113,733 L116,757.5 L112,757.5 L109.5,730 L105,715.5 Z" fill="#a68a30" opacity="0.4"/><path d="M206,756 C214,753 219,750 222.5,745 C226,738 229,730 231,725.1 C233,729 235,737 238,744 C240,749 244,752 254,756 Z" fill="url(#gaG)" /><path d="M278,754 C283,752 287,749 290.2,745.7 C293,748 296,751 302,754 Z" fill="url(#gbG)" /><line x1="42.6" y1="844.4" x2="327.8" y2="842.8" stroke="#111" stroke-width="1.3"/><line x1="57.1" y1="844.3" x2="57.1" y2="848.8" stroke="#333" stroke-width="1.0"/><line x1="71.4" y1="844.2" x2="71.4" y2="853.2" stroke="#333" stroke-width="1.0"/><line x1="85.7" y1="844.2" x2="85.7" y2="848.7" stroke="#333" stroke-width="1.0"/><line x1="100.0" y1="844.1" x2="100.0" y2="848.6" stroke="#333" stroke-width="1.0"/><line x1="114.3" y1="844.0" x2="114.3" y2="848.5" stroke="#333" stroke-width="1.0"/><line x1="128.6" y1="843.9" x2="128.6" y2="848.4" stroke="#333" stroke-width="1.0"/><line x1="142.9" y1="843.8" x2="142.9" y2="848.3" stroke="#333" stroke-width="1.0"/><line x1="157.2" y1="843.8" x2="157.2" y2="848.3" stroke="#333" stroke-width="1.0"/><line x1="171.5" y1="843.7" x2="171.5" y2="848.2" stroke="#333" stroke-width="1.0"/><line x1="185.8" y1="843.6" x2="185.8" y2="852.6" stroke="#333" stroke-width="1.0"/><line x1="200.1" y1="843.5" x2="200.1" y2="848.0" stroke="#333" stroke-width="1.0"/><line x1="214.4" y1="843.4" x2="214.4" y2="847.9" stroke="#333" stroke-width="1.0"/><line x1="228.7" y1="843.4" x2="228.7" y2="847.9" stroke="#333" stroke-width="1.0"/><line x1="243.0" y1="843.3" x2="243.0" y2="847.8" stroke="#333" stroke-width="1.0"/><line x1="257.3" y1="843.2" x2="257.3" y2="847.7" stroke="#333" stroke-width="1.0"/><line x1="271.6" y1="843.1" x2="271.6" y2="847.6" stroke="#333" stroke-width="1.0"/><line x1="285.9" y1="843.0" x2="285.9" y2="847.5" stroke="#333" stroke-width="1.0"/><line x1="300.2" y1="843.0" x2="300.2" y2="852.0" stroke="#333" stroke-width="1.0"/><line x1="314.5" y1="842.9" x2="314.5" y2="847.4" stroke="#333" stroke-width="1.0"/><line x1="327.8" y1="842.8" x2="327.8" y2="847.3" stroke="#333" stroke-width="1.0"/><text transform="translate(57.93,874.60) scale(17.3262,20.0000)" font-size="1" font-weight="normal">96.4</text><text transform="translate(171.32,870.79) scale(17.6344,21.4085)" font-size="1" font-weight="normal">96.0</text><text transform="translate(283.56,868.51) scale(17.3684,19.4681)" font-size="1" font-weight="bold">[ppm]</text><text transform="translate(104.60,691.20) rotate(-90) scale(17.4419,19.7143)" font-size="1" font-weight="normal">αM</text><text transform="translate(137.31,619.76) rotate(-90) scale(16.5873,17.5532)" font-size="1" font-weight="normal">βM</text><text transform="translate(235.10,713.11) rotate(-90) scale(17.6613,20.0000)" font-size="1" font-weight="normal">αG</text><text transform="translate(296.10,730.03) rotate(-90) scale(16.1157,16.1702)" font-size="1" font-weight="normal">βG</text><text transform="translate(22.26,836.75) rotate(-99.90)" font-size="19.36" font-weight="normal">Time</text><line x1="29.2" y1="845.5" x2="17.2" y2="776.9" stroke="#000" stroke-width="2.4"/><polygon points="13.8,757.2 26.9,777.2 8.2,780.5" fill="#000"/><path d="M124,1000 C129,992 131,988 132.5,984 C134.5,975 137,960 139.6,946.5 C142,952 144,958 145.1,960.7 C147,964 149,966 150.6,967.3 C153,972 155,976 157.2,979.4 C159,984 163,990 172,1000 Z" fill="url(#gMMG)" /><path d="M139.6,946.5 C142,952 144,958 145.1,960.7 C147,964 149,966 150.6,967.3 L158,992 L151,992 C148,975 144,960 139.6,946.5 Z" fill="#9a9e38" opacity="0.4"/><path d="M176,1000 C182,994 185,988 188,985.5 C191,988 194,994 201,1000 Z" fill="url(#gBkGGG)" /><polygon points="34.5,995.5 38.8,994.6 43.0,995.4 47.3,994.2 51.5,996.3 55.8,994.3 60.0,995.3 64.3,996.5 68.6,994.7 72.8,996.5 77.1,995.7 81.3,995.0 85.6,995.2 89.9,995.0 94.1,994.2 98.4,996.2 102.6,994.3 106.9,996.1 111.1,995.6 115.4,992.9 119.7,993.6 123.9,994.2 128.2,995.2 132.4,993.1 136.7,994.5 141.0,993.6 145.2,994.9 149.5,995.3 153.7,994.7 158.0,992.8 162.2,994.6 166.5,993.5 170.8,994.7 175.0,993.5 179.3,994.8 183.5,995.0 187.8,994.4 192.1,994.4 196.3,994.3 200.6,993.5 204.8,992.1 209.1,994.7 213.3,992.9 217.6,991.4 221.9,992.7 226.1,992.6 230.4,991.9 234.6,994.2 238.9,991.5 243.2,993.9 247.4,992.7 251.7,991.5 255.9,992.0 260.2,992.2 264.5,991.1 268.7,993.1 273.0,992.7 277.2,993.7 281.5,993.2 285.7,993.0 290.0,992.0 300.0,984.0 311.8,982.9 323.6,979.3 335.5,972.2 341.4,960.0 425.0,960.0 433.4,978.8 433.4,978.8 437.7,979.5 442.0,980.8 446.4,979.5 450.7,980.7 455.0,981.8 459.3,980.6 463.6,981.7 468.0,982.0 472.3,982.7 476.6,980.1 480.9,980.8 485.2,984.1 489.6,983.5 493.9,982.0 498.2,984.1 502.5,982.3 506.8,983.3 511.2,983.9 515.5,983.4 519.8,983.4 524.1,985.0 528.4,985.8 532.8,984.9 537.1,986.4 541.4,987.9 545.7,984.8 550.0,985.9 554.4,985.5 558.7,987.9 563.0,987.6 589.6,1153.0 584.4,1154.1 579.3,1152.3 574.1,1153.4 569.0,1153.4 563.8,1154.6 558.6,1153.3 553.5,1153.6 548.3,1154.0 543.2,1153.6 538.0,1154.0 519.5,1150.0 507.0,1144.7 490.6,1138.6 480.0,1126.6 472.4,1127.8 460.6,1126.6 453.5,1124.2 448.8,1112.4 445.2,1098.2 439.3,1093.5 437.0,1107.7 429.9,1098.2 422.8,1084.0 415.7,1060.4 408.6,1039.1 402.7,1003.6 401.0,1002.5 399.1,1027.3 398.0,1051.0 396.7,1060.4 393.2,1081.7 389.7,1098.2 386.1,1081.7 384.9,1079.3 382.6,1093.5 377.8,1107.7 373.1,1117.1 367.2,1129.0 358.9,1138.4 349.5,1143.2 340.0,1147.9 321.0,1152.0 317.0,1150.7 312.9,1153.3 308.9,1150.8 304.9,1152.6 300.8,1152.9 296.8,1152.5 292.8,1151.2 288.7,1151.3 284.7,1152.4 280.7,1153.1 276.6,1152.1 272.6,1151.7 268.6,1151.2 264.5,1151.3 260.5,1152.2 256.5,1151.3 252.4,1151.5 248.4,1151.8 244.4,1151.8 240.3,1150.0 236.3,1150.5 232.3,1151.9 228.2,1151.4 224.2,1152.2 220.2,1149.8 216.1,1150.3 212.1,1151.1 208.1,1151.8 204.0,1150.1 200.0,1151.0 176.0,1141.0 165.0,1147.0 160.0,1150.0 155.7,1151.9 151.4,1151.2 147.1,1151.4 142.9,1152.1 138.6,1153.3 134.3,1154.5 130.0,1153.3 125.7,1153.2 121.4,1154.1 117.1,1153.7 112.9,1155.9 108.6,1157.5 104.3,1155.6 100.0,1157.0 80.0,1165.0 54.7,1166.0" fill="#48ae4b"/><polygon points="34.5,995.5 38.8,994.6 43.0,995.4 47.3,994.2 51.5,996.3 55.8,994.3 60.0,995.3 64.3,996.5 68.6,994.7 72.8,996.5 77.1,995.7 81.3,995.0 85.6,995.2 89.9,995.0 94.1,994.2 98.4,996.2 102.6,994.3 106.9,996.1 111.1,995.6 115.4,992.9 119.7,993.6 123.9,994.2 128.2,995.2 132.4,993.1 136.7,994.5 141.0,993.6 145.2,994.9 149.5,995.3 153.7,994.7 158.0,992.8 162.2,994.6 166.5,993.5 170.8,994.7 175.0,993.5 179.3,994.8 183.5,995.0 187.8,994.4 192.1,994.4 196.3,994.3 200.6,993.5 204.8,992.1 209.1,994.7 213.3,992.9 217.6,991.4 221.9,992.7 226.1,992.6 230.4,991.9 234.6,994.2 238.9,991.5 243.2,993.9 247.4,992.7 251.7,991.5 255.9,992.0 260.2,992.2 264.5,991.1 268.7,993.1 273.0,992.7 277.2,993.7 281.5,993.2 285.7,993.0 290.0,992.0 300.0,984.0 311.8,982.9 323.6,979.3 335.5,972.2 341.4,960.0 425.0,960.0 433.4,978.8 433.4,978.8 437.7,979.5 442.0,980.8 446.4,979.5 450.7,980.7 455.0,981.8 459.3,980.6 463.6,981.7 468.0,982.0 472.3,982.7 476.6,980.1 480.9,980.8 485.2,984.1 489.6,983.5 493.9,982.0 498.2,984.1 502.5,982.3 506.8,983.3 511.2,983.9 515.5,983.4 519.8,983.4 524.1,985.0 528.4,985.8 532.8,984.9 537.1,986.4 541.4,987.9 545.7,984.8 550.0,985.9 554.4,985.5 558.7,987.9 563.0,987.6 589.6,1153.0 584.4,1154.1 579.3,1152.3 574.1,1153.4 569.0,1153.4 563.8,1154.6 558.6,1153.3 553.5,1153.6 548.3,1154.0 543.2,1153.6 538.0,1154.0 519.5,1150.0 507.0,1144.7 490.6,1138.6 480.0,1126.6 472.4,1127.8 460.6,1126.6 453.5,1124.2 448.8,1112.4 445.2,1098.2 439.3,1093.5 437.0,1107.7 429.9,1098.2 422.8,1084.0 415.7,1060.4 408.6,1039.1 402.7,1003.6 401.0,1002.5 399.1,1027.3 398.0,1051.0 396.7,1060.4 393.2,1081.7 389.7,1098.2 386.1,1081.7 384.9,1079.3 382.6,1093.5 377.8,1107.7 373.1,1117.1 367.2,1129.0 358.9,1138.4 349.5,1143.2 340.0,1147.9 321.0,1152.0 317.0,1150.7 312.9,1153.3 308.9,1150.8 304.9,1152.6 300.8,1152.9 296.8,1152.5 292.8,1151.2 288.7,1151.3 284.7,1152.4 280.7,1153.1 276.6,1152.1 272.6,1151.7 268.6,1151.2 264.5,1151.3 260.5,1152.2 256.5,1151.3 252.4,1151.5 248.4,1151.8 244.4,1151.8 240.3,1150.0 236.3,1150.5 232.3,1151.9 228.2,1151.4 224.2,1152.2 220.2,1149.8 216.1,1150.3 212.1,1151.1 208.1,1151.8 204.0,1150.1 200.0,1151.0 176.0,1141.0 165.0,1147.0 160.0,1150.0 155.7,1151.9 151.4,1151.2 147.1,1151.4 142.9,1152.1 138.6,1153.3 134.3,1154.5 130.0,1153.3 125.7,1153.2 121.4,1154.1 117.1,1153.7 112.9,1155.9 108.6,1157.5 104.3,1155.6 100.0,1157.0 80.0,1165.0 54.7,1166.0" fill="#000" filter="url(#tex3)"/><polygon points="34.5,995.5 38.8,994.6 43.0,995.4 47.3,994.2 51.5,996.3 55.8,994.3 60.0,995.3 64.3,996.5 68.6,994.7 72.8,996.5 77.1,995.7 81.3,995.0 85.6,995.2 89.9,995.0 94.1,994.2 98.4,996.2 102.6,994.3 106.9,996.1 111.1,995.6 115.4,992.9 119.7,993.6 123.9,994.2 128.2,995.2 132.4,993.1 136.7,994.5 141.0,993.6 145.2,994.9 149.5,995.3 153.7,994.7 158.0,992.8 162.2,994.6 166.5,993.5 170.8,994.7 175.0,993.5 179.3,994.8 183.5,995.0 187.8,994.4 192.1,994.4 196.3,994.3 200.6,993.5 204.8,992.1 209.1,994.7 213.3,992.9 217.6,991.4 221.9,992.7 226.1,992.6 230.4,991.9 234.6,994.2 238.9,991.5 243.2,993.9 247.4,992.7 251.7,991.5 255.9,992.0 260.2,992.2 264.5,991.1 268.7,993.1 273.0,992.7 277.2,993.7 281.5,993.2 285.7,993.0 290.0,992.0 300.0,984.0 311.8,982.9 323.6,979.3 335.5,972.2 341.4,960.0 425.0,960.0 433.4,978.8 433.4,978.8 437.7,979.5 442.0,980.8 446.4,979.5 450.7,980.7 455.0,981.8 459.3,980.6 463.6,981.7 468.0,982.0 472.3,982.7 476.6,980.1 480.9,980.8 485.2,984.1 489.6,983.5 493.9,982.0 498.2,984.1 502.5,982.3 506.8,983.3 511.2,983.9 515.5,983.4 519.8,983.4 524.1,985.0 528.4,985.8 532.8,984.9 537.1,986.4 541.4,987.9 545.7,984.8 550.0,985.9 554.4,985.5 558.7,987.9 563.0,987.6 589.6,1153.0 584.4,1154.1 579.3,1152.3 574.1,1153.4 569.0,1153.4 563.8,1154.6 558.6,1153.3 553.5,1153.6 548.3,1154.0 543.2,1153.6 538.0,1154.0 519.5,1150.0 507.0,1144.7 490.6,1138.6 480.0,1126.6 472.4,1127.8 460.6,1126.6 453.5,1124.2 448.8,1112.4 445.2,1098.2 439.3,1093.5 437.0,1107.7 429.9,1098.2 422.8,1084.0 415.7,1060.4 408.6,1039.1 402.7,1003.6 401.0,1002.5 399.1,1027.3 398.0,1051.0 396.7,1060.4 393.2,1081.7 389.7,1098.2 386.1,1081.7 384.9,1079.3 382.6,1093.5 377.8,1107.7 373.1,1117.1 367.2,1129.0 358.9,1138.4 349.5,1143.2 340.0,1147.9 321.0,1152.0 317.0,1150.7 312.9,1153.3 308.9,1150.8 304.9,1152.6 300.8,1152.9 296.8,1152.5 292.8,1151.2 288.7,1151.3 284.7,1152.4 280.7,1153.1 276.6,1152.1 272.6,1151.7 268.6,1151.2 264.5,1151.3 260.5,1152.2 256.5,1151.3 252.4,1151.5 248.4,1151.8 244.4,1151.8 240.3,1150.0 236.3,1150.5 232.3,1151.9 228.2,1151.4 224.2,1152.2 220.2,1149.8 216.1,1150.3 212.1,1151.1 208.1,1151.8 204.0,1150.1 200.0,1151.0 176.0,1141.0 165.0,1147.0 160.0,1150.0 155.7,1151.9 151.4,1151.2 147.1,1151.4 142.9,1152.1 138.6,1153.3 134.3,1154.5 130.0,1153.3 125.7,1153.2 121.4,1154.1 117.1,1153.7 112.9,1155.9 108.6,1157.5 104.3,1155.6 100.0,1157.0 80.0,1165.0 54.7,1166.0" fill="url(#tealB2)" /><polygon points="34.5,995.5 38.8,994.6 43.0,995.4 47.3,994.2 51.5,996.3 55.8,994.3 60.0,995.3 64.3,996.5 68.6,994.7 72.8,996.5 77.1,995.7 81.3,995.0 85.6,995.2 89.9,995.0 94.1,994.2 98.4,996.2 102.6,994.3 106.9,996.1 111.1,995.6 115.4,992.9 119.7,993.6 123.9,994.2 128.2,995.2 132.4,993.1 136.7,994.5 141.0,993.6 145.2,994.9 149.5,995.3 153.7,994.7 158.0,992.8 162.2,994.6 166.5,993.5 170.8,994.7 175.0,993.5 179.3,994.8 183.5,995.0 187.8,994.4 192.1,994.4 196.3,994.3 200.6,993.5 204.8,992.1 209.1,994.7 213.3,992.9 217.6,991.4 221.9,992.7 226.1,992.6 230.4,991.9 234.6,994.2 238.9,991.5 243.2,993.9 247.4,992.7 251.7,991.5 255.9,992.0 260.2,992.2 264.5,991.1 268.7,993.1 273.0,992.7 277.2,993.7 281.5,993.2 285.7,993.0 290.0,992.0 300.0,984.0 311.8,982.9 323.6,979.3 335.5,972.2 341.4,960.0 425.0,960.0 433.4,978.8 433.4,978.8 437.7,979.5 442.0,980.8 446.4,979.5 450.7,980.7 455.0,981.8 459.3,980.6 463.6,981.7 468.0,982.0 472.3,982.7 476.6,980.1 480.9,980.8 485.2,984.1 489.6,983.5 493.9,982.0 498.2,984.1 502.5,982.3 506.8,983.3 511.2,983.9 515.5,983.4 519.8,983.4 524.1,985.0 528.4,985.8 532.8,984.9 537.1,986.4 541.4,987.9 545.7,984.8 550.0,985.9 554.4,985.5 558.7,987.9 563.0,987.6 589.6,1153.0 584.4,1154.1 579.3,1152.3 574.1,1153.4 569.0,1153.4 563.8,1154.6 558.6,1153.3 553.5,1153.6 548.3,1154.0 543.2,1153.6 538.0,1154.0 519.5,1150.0 507.0,1144.7 490.6,1138.6 480.0,1126.6 472.4,1127.8 460.6,1126.6 453.5,1124.2 448.8,1112.4 445.2,1098.2 439.3,1093.5 437.0,1107.7 429.9,1098.2 422.8,1084.0 415.7,1060.4 408.6,1039.1 402.7,1003.6 401.0,1002.5 399.1,1027.3 398.0,1051.0 396.7,1060.4 393.2,1081.7 389.7,1098.2 386.1,1081.7 384.9,1079.3 382.6,1093.5 377.8,1107.7 373.1,1117.1 367.2,1129.0 358.9,1138.4 349.5,1143.2 340.0,1147.9 321.0,1152.0 317.0,1150.7 312.9,1153.3 308.9,1150.8 304.9,1152.6 300.8,1152.9 296.8,1152.5 292.8,1151.2 288.7,1151.3 284.7,1152.4 280.7,1153.1 276.6,1152.1 272.6,1151.7 268.6,1151.2 264.5,1151.3 260.5,1152.2 256.5,1151.3 252.4,1151.5 248.4,1151.8 244.4,1151.8 240.3,1150.0 236.3,1150.5 232.3,1151.9 228.2,1151.4 224.2,1152.2 220.2,1149.8 216.1,1150.3 212.1,1151.1 208.1,1151.8 204.0,1150.1 200.0,1151.0 176.0,1141.0 165.0,1147.0 160.0,1150.0 155.7,1151.9 151.4,1151.2 147.1,1151.4 142.9,1152.1 138.6,1153.3 134.3,1154.5 130.0,1153.3 125.7,1153.2 121.4,1154.1 117.1,1153.7 112.9,1155.9 108.6,1157.5 104.3,1155.6 100.0,1157.0 80.0,1165.0 54.7,1166.0" fill="url(#frMB)" /><g clip-path="url(#cMainB)"><polygon points="235.0,960.0 355.0,960.0 372.0,1160.0 235.0,1160.0" fill="url(#glB)" /><g filter="url(#b3)"><polygon points="128.0,988.0 166.0,988.0 196.0,1140.0 146.0,1142.0" fill="#c2d641" opacity="0.85"/><polygon points="134.0,988.0 160.0,988.0 186.0,1136.0 152.0,1138.0" fill="#d8d93c" opacity="0.9"/><polygon points="184.0,992.0 196.0,992.0 214.0,1056.0 204.0,1060.0" fill="#b2d443" opacity="0.7"/><polygon points="205.0,1060.0 218.0,1060.0 230.0,1132.0 200.0,1134.0" fill="#d6d83c" opacity="0.9"/></g><polygon points="150.0,990.0 154.0,990.0 166.0,1045.0 163.0,1045.0" fill="#8f9436" opacity="0.5" filter="url(#b1)"/><polygon points="158.0,1050.0 161.0,1050.0 168.0,1100.0 165.0,1100.0" fill="#8f9436" opacity="0.4" filter="url(#b1)"/><g filter="url(#b5)"><polygon points="436.0,980.0 452.0,980.0 462.0,1120.0 446.0,1115.0" fill="#bfd442" opacity="0.55"/><polygon points="462.0,990.0 482.0,990.0 502.0,1125.0 470.0,1125.0" fill="#c4d541" opacity="0.6"/></g></g><path d="M174.1,997 C175.5,1010 176.5,1020 177,1028.8 L180.3,1072.7 L185.8,1105.7 L191.2,1127.6 L194,1140 L160,1140 L160.5,1127.6 L164.9,1083.7 L169.3,1039.8 C171,1025 172.5,1010 174.1,997 Z" fill="url(#gFrB)" /><path d="M174.1,997 C175.5,1010 176.5,1020 177,1028.8 L180.3,1072.7 L185.8,1105.7 L188,1115 L185.5,1115 L178,1072 L175.2,1028 Z" fill="url(#gFrB2)" /><path d="M213.5,1056.5 L217.6,1066.1 L222,1094.7 L226.4,1121 L228,1132 L203,1132 L204.5,1107 L206.5,1088 L210,1065 Z" fill="url(#gF3B)" /><path d="M213.2,1056.3 L217.6,1066.1 L222,1094.7 L225,1112 L222.5,1112 L219.5,1094 L215.5,1066 Z" fill="#a89a38" opacity="0.5"/><g mask="url(#mFadeB)"><path d="M290,992 C300,986 306,984 311.8,982.9 C318,981 321,980 323.6,979.3 C329,977 333,975 335.5,972.2 C338,969 340,965 341.4,960.4 C342.5,955 343,950 343.7,943.8 L346.1,915.5 L348.5,880 L349.7,800 L350.5,721.6 L352.6,660.8 C353,640 353.5,625 354.2,618.6 C355,620 355.5,622 356.2,624.3 C358,635 359,643 360.3,650.7 L364.3,681 L368.4,721.6 L370.4,762 L371.5,790 L374.5,800 L375,880 L402,900 L402,1150 L290,1150 Z" fill="url(#gDMB)" /><path d="M354.2,618.6 L352.6,660.8 L350.5,721.6 L349.7,800 L349,900 L357,900 L357,800 C357,700 356,650 354.2,618.6 Z" fill="url(#gDMlB)" /><path d="M368,850 L373.3,880 L375,960 L378,1040 L380,1080 L372,1090 L366,1010 L361,950 Z" fill="url(#gS1B)" opacity="0.85"/><path d="M373.7,800 L376.5,790.2 L386,840 L396.9,900 L401.7,913 L404,960 L403.5,1003 L399.1,1027.3 L398,1051 L396.7,1060.4 L393.2,1081.7 L389.7,1098.2 L386.1,1081.7 L384.9,1079.3 L380,1000 L377,930 L373.3,880 Z" fill="url(#gMxB)" /><path d="M376.5,790.2 L386,840 L396.9,900 L401.7,913 L399,913 L394.5,900 L384,842 Z" fill="#8c4a20" opacity="0.5"/><polygon points="373.3,872.0 376.5,872.0 378.0,960.0 375.0,960.0" fill="#b06a28" opacity="0.45"/><path d="M386,925 L390,935 L395,1030 L393,1080 L388,1075 L385,1000 Z" fill="url(#gMxyB)" /></g><path d="M411.4,658.8 L413.4,681 L416,742 L417.4,780 L418,800 L421,900 L423,960 L428,972 L433.4,978.8 L440,1040 L447.6,1092 L449,1110 L445.2,1098.2 L439.3,1093.5 L437,1107.7 L429.9,1098.2 L422.8,1084 L415.7,1060.4 L408.6,1039.1 L402.7,1003.6 L402.9,913 L404.3,900 L408,780 L408.9,721.6 Z" fill="url(#gMMMB)" /><path d="M411.6,661 L413.4,681 L416,742 L417.4,780 L418,800 L421,900 L423,966 L428,1060 L437,1107.7 L429.9,1098.2 L422.8,1084 L415.7,1060.4 L408.6,1039.1 L403.5,1003.6 L404,913 L406,900 L409.5,780 L410.5,721.6 Z" fill="url(#gBrB2)" /><path d="M418,800 L421,900 L423,960 L428,972 L433.4,978.8 L440,1040 L447.6,1092 L449,1110 L445.2,1098.2 L439.3,1093.5 L437,1107.7 L428,1060 L423,966 L421,900 Z" fill="url(#gMMyB)" /><g clip-path="url(#cMainB)"><g filter="url(#b3)"><polygon points="476.0,1010.0 481.0,1010.0 500.0,1128.0 462.0,1128.0" fill="#d8d73c" opacity="0.85"/></g></g><path d="M478,1000.1 L481,1021.4 L485,1051.8 L489.2,1082.2 L495.3,1112.6 L499,1128 L462,1128 L460.8,1102.4 L466.9,1072 L473,1041.6 Z" fill="url(#gMGMB)" /><path d="M478,1000.1 L481,1021.4 L485,1051.8 L489.2,1082.2 L495.3,1112.6 L492.5,1113 L486,1082 L482,1051.8 L478.5,1021 Z" fill="url(#gMGMBs)" /><path d="M401,1002.5 L399.1,1027.3 L398,1051 L396.7,1060.4 L393.2,1081.7 L389.7,1098.2 L386.1,1081.7 L384.9,1079.3 L382.6,1093.5 L377.8,1107.7 L373.1,1117.1 L367.2,1129 L358.9,1138.4 L349.5,1143.2 L340,1147.9 L330,1150 L330,1156 L480,1156 L480,1126.6 L472.4,1127.8 L460.6,1126.6 L453.5,1124.2 L448.8,1112.4 L445.2,1098.2 L439.3,1093.5 L437,1107.7 L429.9,1098.2 L422.8,1084 L415.7,1060.4 L408.6,1039.1 L402.7,1003.6 Z" fill="#fff" /><line x1="372.4" y1="783.4" x2="429.8" y2="783.4" stroke="#111" stroke-width="1.3"/><line x1="373.0" y1="783.4" x2="373.0" y2="789.4" stroke="#111" stroke-width="1.3"/><line x1="429.2" y1="783.4" x2="429.2" y2="789.4" stroke="#111" stroke-width="1.3"/><text transform="translate(377.30,655.99) rotate(-90) scale(16.3309,18.5507)" font-size="1" font-weight="normal">ΔM</text><line x1="379.5" y1="644.5" x2="379.5" y2="655.5" stroke="#111" stroke-width="1.5"/><text transform="translate(404.50,720.88) rotate(-90) scale(16.0256,18.5507)" font-size="1" font-weight="normal">MMM</text><line x1="406.0" y1="694.0" x2="406.0" y2="706.5" stroke="#111" stroke-width="1.5"/><text transform="translate(429.92,774.30) scale(16.0484,17.5362)" font-size="1" font-weight="normal">Mx</text><line x1="429.7" y1="776.8" x2="443.0" y2="776.8" stroke="#111" stroke-width="1.3"/><text transform="translate(460.22,969.46) rotate(-90) scale(15.7895,18.0282)" font-size="1" font-weight="normal">MGM</text><line x1="462.2" y1="944.5" x2="462.2" y2="956.5" stroke="#111" stroke-width="1.5"/><text transform="translate(126.42,931.02) rotate(-90) scale(15.2838,18.0282)" font-size="1" font-weight="normal">MMG</text><line x1="127.8" y1="906.5" x2="127.8" y2="918.5" stroke="#111" stroke-width="1.5"/><text transform="translate(159.72,931.74) rotate(-90) scale(14.7345,17.8873)" font-size="1" font-weight="normal">GMG</text><line x1="161.2" y1="908.5" x2="161.2" y2="920.5" stroke="#111" stroke-width="1.5"/><text transform="translate(196.82,977.86) rotate(-90) scale(15.2941,17.7465)" font-size="1" font-weight="normal">GGG</text><line x1="198.6" y1="954.5" x2="198.6" y2="966.0" stroke="#111" stroke-width="1.5"/><line x1="128.3" y1="934.8" x2="139.6" y2="945.8" stroke="#111" stroke-width="1.2"/><line x1="153.1" y1="939.4" x2="149.8" y2="964.4" stroke="#111" stroke-width="1.2"/><line x1="54.7" y1="1158.1" x2="589.6" y2="1152.0" stroke="#111" stroke-width="1.3"/><line x1="54.1" y1="1158.1" x2="54.1" y2="1162.6" stroke="#333" stroke-width="1.0"/><line x1="72.0" y1="1157.9" x2="72.0" y2="1162.4" stroke="#333" stroke-width="1.0"/><line x1="89.9" y1="1157.7" x2="89.9" y2="1162.2" stroke="#333" stroke-width="1.0"/><line x1="107.8" y1="1157.5" x2="107.8" y2="1162.0" stroke="#333" stroke-width="1.0"/><line x1="125.6" y1="1157.3" x2="125.6" y2="1161.8" stroke="#333" stroke-width="1.0"/><line x1="143.5" y1="1157.1" x2="143.5" y2="1166.1" stroke="#333" stroke-width="1.0"/><line x1="161.4" y1="1156.9" x2="161.4" y2="1161.4" stroke="#333" stroke-width="1.0"/><line x1="179.2" y1="1156.7" x2="179.2" y2="1161.2" stroke="#333" stroke-width="1.0"/><line x1="197.1" y1="1156.5" x2="197.1" y2="1161.0" stroke="#333" stroke-width="1.0"/><line x1="215.0" y1="1156.3" x2="215.0" y2="1160.8" stroke="#333" stroke-width="1.0"/><line x1="232.9" y1="1156.1" x2="232.9" y2="1160.6" stroke="#333" stroke-width="1.0"/><line x1="250.7" y1="1155.9" x2="250.7" y2="1160.4" stroke="#333" stroke-width="1.0"/><line x1="268.6" y1="1155.7" x2="268.6" y2="1160.2" stroke="#333" stroke-width="1.0"/><line x1="286.5" y1="1155.5" x2="286.5" y2="1160.0" stroke="#333" stroke-width="1.0"/><line x1="304.3" y1="1155.3" x2="304.3" y2="1159.8" stroke="#333" stroke-width="1.0"/><line x1="322.2" y1="1155.0" x2="322.2" y2="1164.0" stroke="#333" stroke-width="1.0"/><line x1="340.1" y1="1154.8" x2="340.1" y2="1159.3" stroke="#333" stroke-width="1.0"/><line x1="357.9" y1="1154.6" x2="357.9" y2="1159.1" stroke="#333" stroke-width="1.0"/><line x1="375.8" y1="1154.4" x2="375.8" y2="1158.9" stroke="#333" stroke-width="1.0"/><line x1="393.7" y1="1154.2" x2="393.7" y2="1158.7" stroke="#333" stroke-width="1.0"/><line x1="411.6" y1="1154.0" x2="411.6" y2="1158.5" stroke="#333" stroke-width="1.0"/><line x1="429.4" y1="1153.8" x2="429.4" y2="1158.3" stroke="#333" stroke-width="1.0"/><line x1="447.3" y1="1153.6" x2="447.3" y2="1158.1" stroke="#333" stroke-width="1.0"/><line x1="465.2" y1="1153.4" x2="465.2" y2="1157.9" stroke="#333" stroke-width="1.0"/><line x1="483.0" y1="1153.2" x2="483.0" y2="1157.7" stroke="#333" stroke-width="1.0"/><line x1="500.9" y1="1153.0" x2="500.9" y2="1162.0" stroke="#333" stroke-width="1.0"/><line x1="518.8" y1="1152.8" x2="518.8" y2="1157.3" stroke="#333" stroke-width="1.0"/><line x1="536.6" y1="1152.6" x2="536.6" y2="1157.1" stroke="#333" stroke-width="1.0"/><line x1="554.5" y1="1152.4" x2="554.5" y2="1156.9" stroke="#333" stroke-width="1.0"/><line x1="572.4" y1="1152.2" x2="572.4" y2="1156.7" stroke="#333" stroke-width="1.0"/><line x1="589.5" y1="1152.0" x2="589.5" y2="1156.5" stroke="#333" stroke-width="1.0"/><text transform="translate(130.52,1182.99) scale(17.3077,20.8451)" font-size="1" font-weight="normal">104</text><text transform="translate(308.24,1180.28) scale(17.0323,21.8310)" font-size="1" font-weight="normal">103</text><text transform="translate(486.74,1176.50) scale(17.0130,20.2817)" font-size="1" font-weight="normal">102</text><text transform="translate(542.77,1174.64) scale(17.2180,19.7872)" font-size="1" font-weight="bold">[ppm]</text><text transform="translate(30.16,1125.85) rotate(-98.50)" font-size="19.90" font-weight="normal">Time</text><line x1="46.4" y1="1161.6" x2="22.2" y2="1022.6" stroke="#000" stroke-width="2.4"/><polygon points="18.6,1001.9 31.9,1022.9 13.2,1026.2" fill="#000"/></svg></body></html>
